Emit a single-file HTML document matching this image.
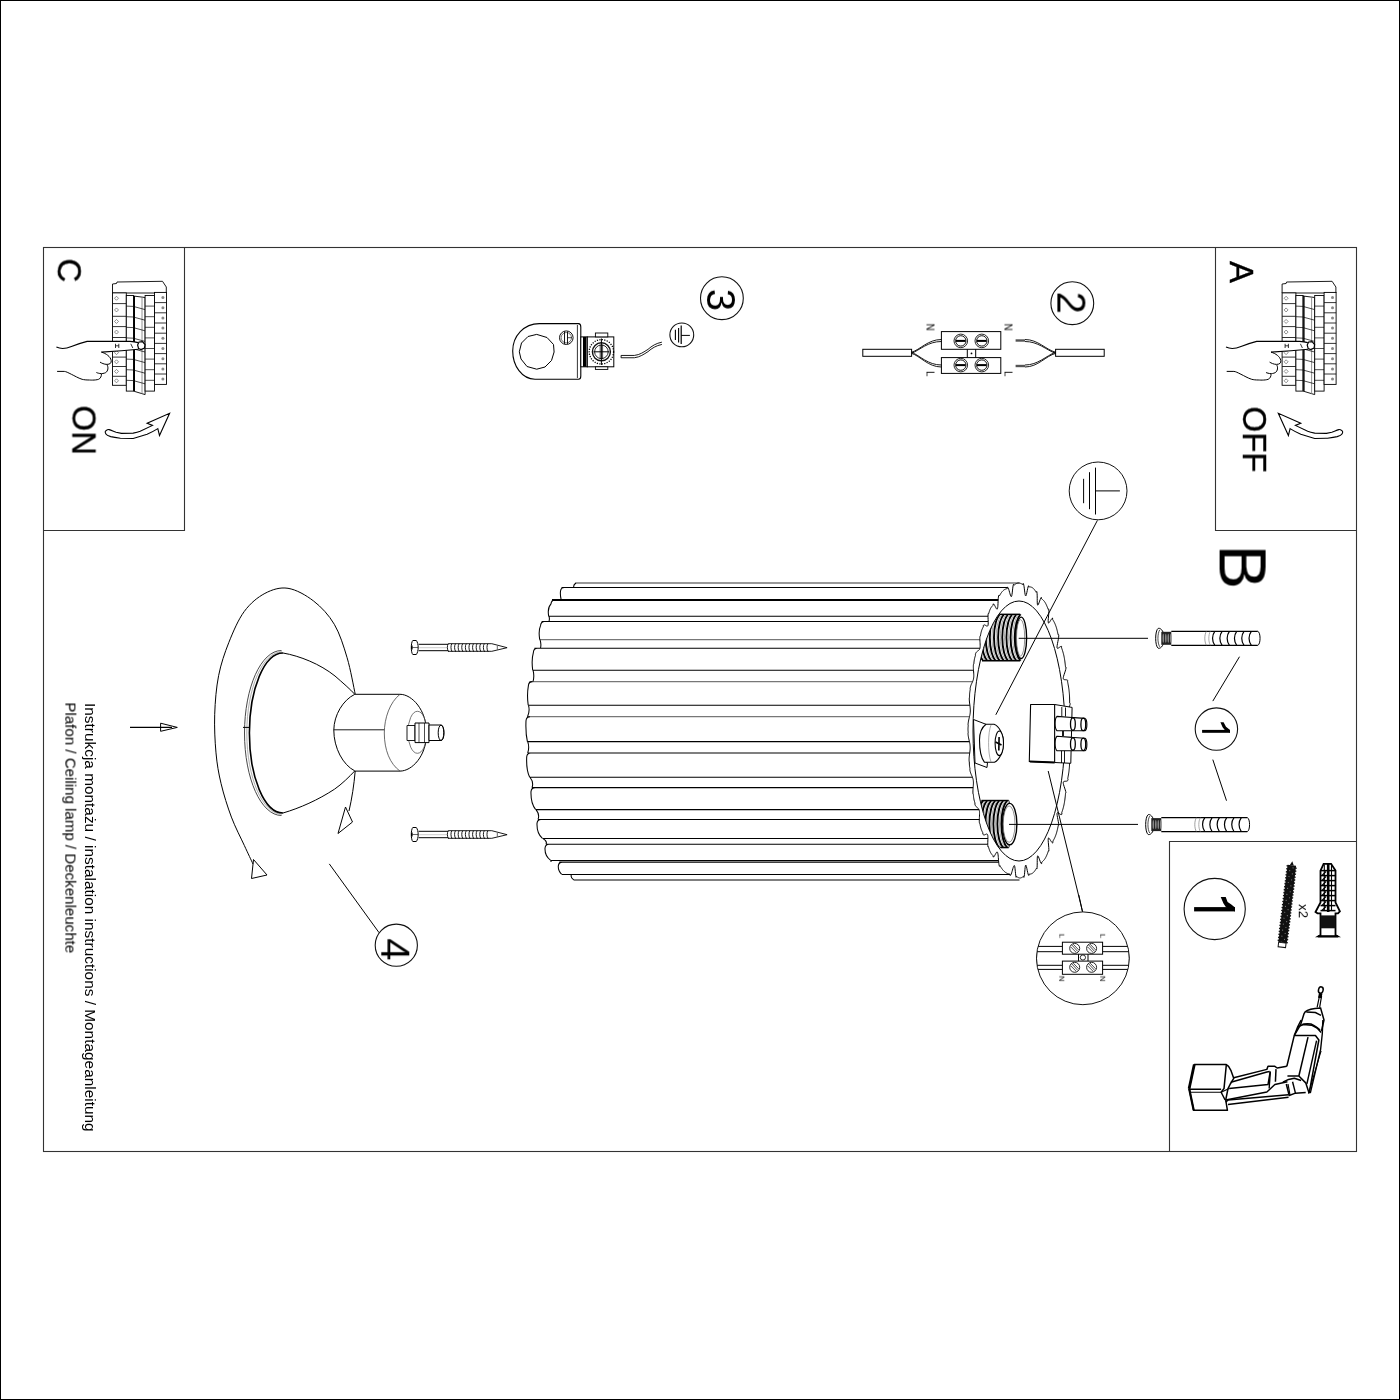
<!DOCTYPE html>
<html><head><meta charset="utf-8"><style>
html,body{margin:0;padding:0;background:#fff;}
svg{display:block;}
text{font-family:"Liberation Sans", sans-serif;fill:#000;}
svg text{will-change:transform;}
</style></head><body>
<svg width="1400" height="1400" viewBox="0 0 1400 1400">
<rect x="0.5" y="0.5" width="1399" height="1399" fill="none" stroke="#000" stroke-width="1"/>
<rect x="43.5" y="247.5" width="1313" height="904" fill="none" stroke="#333" stroke-width="1.1"/>
<path d="M184.5 247.5V530.5H43.5" stroke="#333" stroke-width="1.1" fill="none" />
<path d="M1215.5 247.5V530.5H1356.5" stroke="#333" stroke-width="1.1" fill="none" />
<path d="M1169.5 1151.5V841.5H1356.5" stroke="#333" stroke-width="1.1" fill="none" />
<text transform="translate(57.8,258.5) rotate(90)" font-size="33" stroke="#000" stroke-width="0.35">C</text>
<text transform="translate(72.5,405.5) rotate(90)" font-size="33" stroke="#000" stroke-width="0.35">ON</text>
<text transform="translate(1230,261) rotate(90)" font-size="33" stroke="#000" stroke-width="0.35">A</text>
<text transform="translate(1243,406.5) rotate(90)" font-size="33" stroke="#000" stroke-width="0.35">OFF</text>
<text transform="translate(1219.6,544.5) rotate(90)" font-size="67" >B</text>
<text transform="translate(85,703) rotate(90)" font-size="15.4" >Instrukcja montażu / instalation instructions / Montageanleitung</text>
<text transform="translate(65.4,702.4) rotate(90)" font-size="15.1" >Plafon / Ceiling lamp / Deckenleuchte</text>
<circle cx="721.9" cy="298.2" r="21.4" fill="none" stroke="#111" stroke-width="1.1"/>
<text transform="translate(707,288.8) rotate(90)" font-size="40" >3</text>
<circle cx="1072.3" cy="303.2" r="21.4" fill="none" stroke="#111" stroke-width="1.1"/>
<text transform="translate(1057.4,291.6) rotate(90)" font-size="40" >2</text>
<circle cx="1216.4" cy="729.1" r="21.2" fill="none" stroke="#111" stroke-width="1.1"/>
<rect x="1202.1" y="729.9" width="27.9" height="2.9" fill="#000"/>
<polygon points="1220.4,722.3 1223.6,722.3 1226,726.8 1230,729.9 1230,732.8 1225,730.2 1222.6,727.2" fill="#000"/>
<circle cx="396.3" cy="945.2" r="21.1" fill="none" stroke="#111" stroke-width="1.1"/>
<text transform="translate(381.3,938.3) rotate(90)" font-size="40" >4</text>
<circle cx="1214.7" cy="909" r="30.6" fill="none" stroke="#111" stroke-width="1.1"/>
<rect x="1194.1" y="907.1" width="40.9" height="4.3" fill="#000"/>
<polygon points="1220.7,897.1 1225.7,897.1 1227.6,902 1231,904.3 1235,907.5 1235,911.4 1226,907.3 1223.5,903.5" fill="#000"/>
<polygon points="112.5,293 112.5,284 116.5,283.5 117,282 162.5,281.3 166.3,287 166.3,293" stroke="#000" stroke-width="0.9" fill="none" stroke-linejoin="round"/>
<rect x="112.5" y="292.9" width="13.8" height="92.4" fill="#fff" stroke="#000" stroke-width="0.9"/>
<line x1="112.5" y1="303.6" x2="126.3" y2="303.6" stroke="#000" stroke-width="0.8"/>
<line x1="112.5" y1="316.3" x2="126.3" y2="316.3" stroke="#000" stroke-width="0.8"/>
<line x1="112.5" y1="326.6" x2="126.3" y2="326.6" stroke="#000" stroke-width="0.8"/>
<line x1="112.5" y1="337.5" x2="126.3" y2="337.5" stroke="#000" stroke-width="0.8"/>
<line x1="112.5" y1="348.2" x2="126.3" y2="348.2" stroke="#000" stroke-width="0.8"/>
<line x1="112.5" y1="357.1" x2="126.3" y2="357.1" stroke="#000" stroke-width="0.8"/>
<line x1="112.5" y1="366.5" x2="126.3" y2="366.5" stroke="#000" stroke-width="0.8"/>
<line x1="112.5" y1="376.3" x2="126.3" y2="376.3" stroke="#000" stroke-width="0.8"/>
<polygon points="114.5,298.25 116.5,296.25 118.5,298.25 116.5,300.25" stroke="#444" stroke-width="0.6" fill="none" stroke-linejoin="round"/>
<polygon points="114.5,309.95 116.5,307.95 118.5,309.95 116.5,311.95" stroke="#444" stroke-width="0.6" fill="none" stroke-linejoin="round"/>
<polygon points="114.5,321.45 116.5,319.45 118.5,321.45 116.5,323.45" stroke="#444" stroke-width="0.6" fill="none" stroke-linejoin="round"/>
<polygon points="114.5,332.05 116.5,330.05 118.5,332.05 116.5,334.05" stroke="#444" stroke-width="0.6" fill="none" stroke-linejoin="round"/>
<polygon points="114.5,342.85 116.5,340.85 118.5,342.85 116.5,344.85" stroke="#444" stroke-width="0.6" fill="none" stroke-linejoin="round"/>
<polygon points="114.5,352.65 116.5,350.65 118.5,352.65 116.5,354.65" stroke="#444" stroke-width="0.6" fill="none" stroke-linejoin="round"/>
<polygon points="114.5,361.8 116.5,359.8 118.5,361.8 116.5,363.8" stroke="#444" stroke-width="0.6" fill="none" stroke-linejoin="round"/>
<polygon points="114.5,371.4 116.5,369.4 118.5,371.4 116.5,373.4" stroke="#444" stroke-width="0.6" fill="none" stroke-linejoin="round"/>
<polygon points="114.5,380.8 116.5,378.8 118.5,380.8 116.5,382.8" stroke="#444" stroke-width="0.6" fill="none" stroke-linejoin="round"/>
<rect x="126.3" y="295.5" width="7.2" height="95.6" fill="#fff" stroke="#000" stroke-width="0.9"/>
<line x1="126.3" y1="306.1" x2="133.5" y2="306.4" stroke="#000" stroke-width="0.7"/>
<line x1="126.3" y1="316.7" x2="133.5" y2="317" stroke="#000" stroke-width="0.7"/>
<line x1="126.3" y1="327.3" x2="133.5" y2="327.6" stroke="#000" stroke-width="0.7"/>
<line x1="126.3" y1="337.9" x2="133.5" y2="338.2" stroke="#000" stroke-width="0.7"/>
<line x1="126.3" y1="348.5" x2="133.5" y2="348.8" stroke="#000" stroke-width="0.7"/>
<line x1="126.3" y1="359.1" x2="133.5" y2="359.4" stroke="#000" stroke-width="0.7"/>
<line x1="126.3" y1="369.7" x2="133.5" y2="370" stroke="#000" stroke-width="0.7"/>
<line x1="126.3" y1="380.3" x2="133.5" y2="380.6" stroke="#000" stroke-width="0.7"/>
<polygon points="133.5,296 145.1,297.5 145.1,394.6 133.5,391.1" stroke="#000" stroke-width="0.9" fill="#fff" stroke-linejoin="round"/>
<line x1="134.3" y1="296" x2="134.3" y2="391.1" stroke="#000" stroke-width="1.4"/>
<line x1="142" y1="297" x2="142" y2="394" stroke="#777" stroke-width="0.8"/>
<line x1="134" y1="306.6" x2="145" y2="309.6" stroke="#000" stroke-width="0.7"/>
<line x1="134" y1="317.2" x2="145" y2="320.2" stroke="#000" stroke-width="0.7"/>
<line x1="134" y1="327.8" x2="145" y2="330.8" stroke="#000" stroke-width="0.7"/>
<line x1="134" y1="338.4" x2="145" y2="341.4" stroke="#000" stroke-width="0.7"/>
<line x1="134" y1="349" x2="145" y2="352" stroke="#000" stroke-width="0.7"/>
<line x1="134" y1="359.6" x2="145" y2="362.6" stroke="#000" stroke-width="0.7"/>
<line x1="134" y1="370.2" x2="145" y2="373.2" stroke="#000" stroke-width="0.7"/>
<line x1="134" y1="380.8" x2="145" y2="383.8" stroke="#000" stroke-width="0.7"/>
<rect x="145.1" y="295.5" width="9.4" height="95.6" fill="#fff" stroke="#000" stroke-width="0.9"/>
<line x1="145.1" y1="306.1" x2="154.5" y2="306.1" stroke="#000" stroke-width="0.7"/>
<line x1="145.1" y1="316.7" x2="154.5" y2="316.7" stroke="#000" stroke-width="0.7"/>
<line x1="145.1" y1="327.3" x2="154.5" y2="327.3" stroke="#000" stroke-width="0.7"/>
<line x1="145.1" y1="337.9" x2="154.5" y2="337.9" stroke="#000" stroke-width="0.7"/>
<line x1="145.1" y1="348.5" x2="154.5" y2="348.5" stroke="#000" stroke-width="0.7"/>
<line x1="145.1" y1="359.1" x2="154.5" y2="359.1" stroke="#000" stroke-width="0.7"/>
<line x1="145.1" y1="369.7" x2="154.5" y2="369.7" stroke="#000" stroke-width="0.7"/>
<line x1="145.1" y1="380.3" x2="154.5" y2="380.3" stroke="#000" stroke-width="0.7"/>
<rect x="154.5" y="292.4" width="12" height="92" fill="#fff" stroke="#000" stroke-width="0.9"/>
<line x1="154.5" y1="302.6" x2="166.5" y2="302.6" stroke="#000" stroke-width="0.8"/>
<line x1="154.5" y1="312.8" x2="166.5" y2="312.8" stroke="#000" stroke-width="0.8"/>
<line x1="154.5" y1="323" x2="166.5" y2="323" stroke="#000" stroke-width="0.8"/>
<line x1="154.5" y1="333.2" x2="166.5" y2="333.2" stroke="#000" stroke-width="0.8"/>
<line x1="154.5" y1="343.4" x2="166.5" y2="343.4" stroke="#000" stroke-width="0.8"/>
<line x1="154.5" y1="353.6" x2="166.5" y2="353.6" stroke="#000" stroke-width="0.8"/>
<line x1="154.5" y1="363.8" x2="166.5" y2="363.8" stroke="#000" stroke-width="0.8"/>
<line x1="154.5" y1="374" x2="166.5" y2="374" stroke="#000" stroke-width="0.8"/>
<circle cx="162.9" cy="297.5" r="1.5" fill="#888"/>
<circle cx="162.9" cy="307.7" r="1.5" fill="#888"/>
<circle cx="162.9" cy="317.9" r="1.5" fill="#888"/>
<circle cx="162.9" cy="328.1" r="1.5" fill="#888"/>
<circle cx="162.9" cy="338.3" r="1.5" fill="#888"/>
<circle cx="162.9" cy="348.5" r="1.5" fill="#888"/>
<circle cx="162.9" cy="358.7" r="1.5" fill="#888"/>
<circle cx="162.9" cy="368.9" r="1.5" fill="#888"/>
<circle cx="162.9" cy="379.1" r="1.5" fill="#888"/>
<g transform="translate(0,0)">
<path d="M87.1,341.4 L130,341.4 C134,341.6 136,342 138.2,342.6 L138.6,349.3 L121.4,350.7 L101.4,352.1 L100,345 Z" fill="#fff" stroke="none"/>
<path d="M56.4,347.1 C60,348.8 66,348.8 71.4,346.4 C76,344.6 80,343.3 87.1,341.4 L130,341.4 C134,341.6 136,342 138.2,342.6" stroke="#000" stroke-width="1.1" fill="none" />
<path d="M101.4,352.1 L121.4,350.7 L138.6,349.3" stroke="#000" stroke-width="1.1" fill="none" />
<path d="M101.4,352.1 C106,353.5 110.5,356.5 111.2,360.5 C111.6,363 110,364.3 107,364.4 C104,364.4 101.5,363 100,362.1" stroke="#000" stroke-width="1.0" fill="none" />
<path d="M107.1,365 C108.5,367 108.2,371 105.7,372.6 C104,373.6 101.4,373.6 101.4,373.6 C99,373.5 97.5,373 96.4,372.5" stroke="#000" stroke-width="1.0" fill="none" />
<path d="M101.4,373.8 C101.7,376 100.5,378.5 98.6,379.3 C95,380.5 89.3,380 89.3,380 C86,380 84,379.8 82.1,379.3 C78,378 74.5,375.8 71.4,374.3 C68,372.6 66,371.5 64.3,371.4 L57.1,371.4" stroke="#000" stroke-width="1.0" fill="none" />
<path d="M139,342 L142.5,341.6 L145,344.5 L144.5,348 L141,349.5 L138.6,348.6 L137.6,345 Z" stroke="#000" stroke-width="1.2" fill="#fff" />
<path d="M115.5,343.8 V348 M118.8,343.8 V348 M115.5,345.8 H118.8" stroke="#000" stroke-width="0.8" fill="none" />
<path d="M130.8,343.8 L132.8,348" stroke="#000" stroke-width="0.8" fill="none" />
</g>
<polygon points="1282.1,293 1282.1,284 1286.1,283.5 1286.6,282 1332.1,281.3 1335.9,287 1335.9,293" stroke="#000" stroke-width="0.9" fill="none" stroke-linejoin="round"/>
<rect x="1282.1" y="292.9" width="13.8" height="92.4" fill="#fff" stroke="#000" stroke-width="0.9"/>
<line x1="1282.1" y1="303.6" x2="1295.9" y2="303.6" stroke="#000" stroke-width="0.8"/>
<line x1="1282.1" y1="316.3" x2="1295.9" y2="316.3" stroke="#000" stroke-width="0.8"/>
<line x1="1282.1" y1="326.6" x2="1295.9" y2="326.6" stroke="#000" stroke-width="0.8"/>
<line x1="1282.1" y1="337.5" x2="1295.9" y2="337.5" stroke="#000" stroke-width="0.8"/>
<line x1="1282.1" y1="348.2" x2="1295.9" y2="348.2" stroke="#000" stroke-width="0.8"/>
<line x1="1282.1" y1="357.1" x2="1295.9" y2="357.1" stroke="#000" stroke-width="0.8"/>
<line x1="1282.1" y1="366.5" x2="1295.9" y2="366.5" stroke="#000" stroke-width="0.8"/>
<line x1="1282.1" y1="376.3" x2="1295.9" y2="376.3" stroke="#000" stroke-width="0.8"/>
<polygon points="1284.1,298.25 1286.1,296.25 1288.1,298.25 1286.1,300.25" stroke="#444" stroke-width="0.6" fill="none" stroke-linejoin="round"/>
<polygon points="1284.1,309.95 1286.1,307.95 1288.1,309.95 1286.1,311.95" stroke="#444" stroke-width="0.6" fill="none" stroke-linejoin="round"/>
<polygon points="1284.1,321.45 1286.1,319.45 1288.1,321.45 1286.1,323.45" stroke="#444" stroke-width="0.6" fill="none" stroke-linejoin="round"/>
<polygon points="1284.1,332.05 1286.1,330.05 1288.1,332.05 1286.1,334.05" stroke="#444" stroke-width="0.6" fill="none" stroke-linejoin="round"/>
<polygon points="1284.1,342.85 1286.1,340.85 1288.1,342.85 1286.1,344.85" stroke="#444" stroke-width="0.6" fill="none" stroke-linejoin="round"/>
<polygon points="1284.1,352.65 1286.1,350.65 1288.1,352.65 1286.1,354.65" stroke="#444" stroke-width="0.6" fill="none" stroke-linejoin="round"/>
<polygon points="1284.1,361.8 1286.1,359.8 1288.1,361.8 1286.1,363.8" stroke="#444" stroke-width="0.6" fill="none" stroke-linejoin="round"/>
<polygon points="1284.1,371.4 1286.1,369.4 1288.1,371.4 1286.1,373.4" stroke="#444" stroke-width="0.6" fill="none" stroke-linejoin="round"/>
<polygon points="1284.1,380.8 1286.1,378.8 1288.1,380.8 1286.1,382.8" stroke="#444" stroke-width="0.6" fill="none" stroke-linejoin="round"/>
<rect x="1295.9" y="295.5" width="7.2" height="95.6" fill="#fff" stroke="#000" stroke-width="0.9"/>
<line x1="1295.9" y1="306.1" x2="1303.1" y2="306.4" stroke="#000" stroke-width="0.7"/>
<line x1="1295.9" y1="316.7" x2="1303.1" y2="317" stroke="#000" stroke-width="0.7"/>
<line x1="1295.9" y1="327.3" x2="1303.1" y2="327.6" stroke="#000" stroke-width="0.7"/>
<line x1="1295.9" y1="337.9" x2="1303.1" y2="338.2" stroke="#000" stroke-width="0.7"/>
<line x1="1295.9" y1="348.5" x2="1303.1" y2="348.8" stroke="#000" stroke-width="0.7"/>
<line x1="1295.9" y1="359.1" x2="1303.1" y2="359.4" stroke="#000" stroke-width="0.7"/>
<line x1="1295.9" y1="369.7" x2="1303.1" y2="370" stroke="#000" stroke-width="0.7"/>
<line x1="1295.9" y1="380.3" x2="1303.1" y2="380.6" stroke="#000" stroke-width="0.7"/>
<polygon points="1303.1,296 1314.7,297.5 1314.7,394.6 1303.1,391.1" stroke="#000" stroke-width="0.9" fill="#fff" stroke-linejoin="round"/>
<line x1="1303.9" y1="296" x2="1303.9" y2="391.1" stroke="#000" stroke-width="1.4"/>
<line x1="1311.6" y1="297" x2="1311.6" y2="394" stroke="#777" stroke-width="0.8"/>
<line x1="1303.6" y1="306.6" x2="1314.6" y2="309.6" stroke="#000" stroke-width="0.7"/>
<line x1="1303.6" y1="317.2" x2="1314.6" y2="320.2" stroke="#000" stroke-width="0.7"/>
<line x1="1303.6" y1="327.8" x2="1314.6" y2="330.8" stroke="#000" stroke-width="0.7"/>
<line x1="1303.6" y1="338.4" x2="1314.6" y2="341.4" stroke="#000" stroke-width="0.7"/>
<line x1="1303.6" y1="349" x2="1314.6" y2="352" stroke="#000" stroke-width="0.7"/>
<line x1="1303.6" y1="359.6" x2="1314.6" y2="362.6" stroke="#000" stroke-width="0.7"/>
<line x1="1303.6" y1="370.2" x2="1314.6" y2="373.2" stroke="#000" stroke-width="0.7"/>
<line x1="1303.6" y1="380.8" x2="1314.6" y2="383.8" stroke="#000" stroke-width="0.7"/>
<rect x="1314.7" y="295.5" width="9.4" height="95.6" fill="#fff" stroke="#000" stroke-width="0.9"/>
<line x1="1314.7" y1="306.1" x2="1324.1" y2="306.1" stroke="#000" stroke-width="0.7"/>
<line x1="1314.7" y1="316.7" x2="1324.1" y2="316.7" stroke="#000" stroke-width="0.7"/>
<line x1="1314.7" y1="327.3" x2="1324.1" y2="327.3" stroke="#000" stroke-width="0.7"/>
<line x1="1314.7" y1="337.9" x2="1324.1" y2="337.9" stroke="#000" stroke-width="0.7"/>
<line x1="1314.7" y1="348.5" x2="1324.1" y2="348.5" stroke="#000" stroke-width="0.7"/>
<line x1="1314.7" y1="359.1" x2="1324.1" y2="359.1" stroke="#000" stroke-width="0.7"/>
<line x1="1314.7" y1="369.7" x2="1324.1" y2="369.7" stroke="#000" stroke-width="0.7"/>
<line x1="1314.7" y1="380.3" x2="1324.1" y2="380.3" stroke="#000" stroke-width="0.7"/>
<rect x="1324.1" y="292.4" width="12" height="92" fill="#fff" stroke="#000" stroke-width="0.9"/>
<line x1="1324.1" y1="302.6" x2="1336.1" y2="302.6" stroke="#000" stroke-width="0.8"/>
<line x1="1324.1" y1="312.8" x2="1336.1" y2="312.8" stroke="#000" stroke-width="0.8"/>
<line x1="1324.1" y1="323" x2="1336.1" y2="323" stroke="#000" stroke-width="0.8"/>
<line x1="1324.1" y1="333.2" x2="1336.1" y2="333.2" stroke="#000" stroke-width="0.8"/>
<line x1="1324.1" y1="343.4" x2="1336.1" y2="343.4" stroke="#000" stroke-width="0.8"/>
<line x1="1324.1" y1="353.6" x2="1336.1" y2="353.6" stroke="#000" stroke-width="0.8"/>
<line x1="1324.1" y1="363.8" x2="1336.1" y2="363.8" stroke="#000" stroke-width="0.8"/>
<line x1="1324.1" y1="374" x2="1336.1" y2="374" stroke="#000" stroke-width="0.8"/>
<circle cx="1332.5" cy="297.5" r="1.5" fill="#888"/>
<circle cx="1332.5" cy="307.7" r="1.5" fill="#888"/>
<circle cx="1332.5" cy="317.9" r="1.5" fill="#888"/>
<circle cx="1332.5" cy="328.1" r="1.5" fill="#888"/>
<circle cx="1332.5" cy="338.3" r="1.5" fill="#888"/>
<circle cx="1332.5" cy="348.5" r="1.5" fill="#888"/>
<circle cx="1332.5" cy="358.7" r="1.5" fill="#888"/>
<circle cx="1332.5" cy="368.9" r="1.5" fill="#888"/>
<circle cx="1332.5" cy="379.1" r="1.5" fill="#888"/>
<g transform="translate(1169.6,0)">
<path d="M87.1,341.4 L130,341.4 C134,341.6 136,342 138.2,342.6 L138.6,349.3 L121.4,350.7 L101.4,352.1 L100,345 Z" fill="#fff" stroke="none"/>
<path d="M56.4,347.1 C60,348.8 66,348.8 71.4,346.4 C76,344.6 80,343.3 87.1,341.4 L130,341.4 C134,341.6 136,342 138.2,342.6" stroke="#000" stroke-width="1.1" fill="none" />
<path d="M101.4,352.1 L121.4,350.7 L138.6,349.3" stroke="#000" stroke-width="1.1" fill="none" />
<path d="M101.4,352.1 C106,353.5 110.5,356.5 111.2,360.5 C111.6,363 110,364.3 107,364.4 C104,364.4 101.5,363 100,362.1" stroke="#000" stroke-width="1.0" fill="none" />
<path d="M107.1,365 C108.5,367 108.2,371 105.7,372.6 C104,373.6 101.4,373.6 101.4,373.6 C99,373.5 97.5,373 96.4,372.5" stroke="#000" stroke-width="1.0" fill="none" />
<path d="M101.4,373.8 C101.7,376 100.5,378.5 98.6,379.3 C95,380.5 89.3,380 89.3,380 C86,380 84,379.8 82.1,379.3 C78,378 74.5,375.8 71.4,374.3 C68,372.6 66,371.5 64.3,371.4 L57.1,371.4" stroke="#000" stroke-width="1.0" fill="none" />
<path d="M139,342 L142.5,341.6 L145,344.5 L144.5,348 L141,349.5 L138.6,348.6 L137.6,345 Z" stroke="#000" stroke-width="1.2" fill="#fff" />
<path d="M115.5,343.8 V348 M118.8,343.8 V348 M115.5,345.8 H118.8" stroke="#000" stroke-width="0.8" fill="none" />
<path d="M130.8,343.8 L132.8,348" stroke="#000" stroke-width="0.8" fill="none" />
</g>
<path d="M109.1,429.6 C112,430.5 114,431.8 116.1,432.3 L121.4,433.4 L133.2,433.1 C136,432.5 138,432 140.2,431.2 L152.5,425.4 L147.1,423.2 L169.6,413.3 L159.5,435.5 L157.8,428.6 C154,431 150,433 147.1,434.2 L133.2,438.5 L120.4,438.2 C117,437.8 113.5,437.3 110.7,436.6 C108,435.8 106.5,435 105.9,433.9 C105,432.5 105,431.2 105.9,430.7 C107,429.9 108,429.4 109.1,429.6 Z" stroke="#000" stroke-width="1.1" fill="none" />
<g transform="translate(1447.9,0) scale(-1,1)"><path d="M109.1,429.6 C112,430.5 114,431.8 116.1,432.3 L121.4,433.4 L133.2,433.1 C136,432.5 138,432 140.2,431.2 L152.5,425.4 L147.1,423.2 L169.6,413.3 L159.5,435.5 L157.8,428.6 C154,431 150,433 147.1,434.2 L133.2,438.5 L120.4,438.2 C117,437.8 113.5,437.3 110.7,436.6 C108,435.8 106.5,435 105.9,433.9 C105,432.5 105,431.2 105.9,430.7 C107,429.9 108,429.4 109.1,429.6 Z" stroke="#000" stroke-width="1.1" fill="none"/></g>
<path d="M575.5,583H1019.5" stroke="#777" stroke-width="1.3" fill="none" />
<path d="M552,599.9H998.16" stroke="#000" stroke-width="2.0" fill="none" />
<path d="M540,639.6H979.87" stroke="#777" stroke-width="1.3" fill="none" />
<path d="M529.4,681.6H972.61" stroke="#777" stroke-width="1.3" fill="none" />
<path d="M527,716.7H969.5" stroke="#777" stroke-width="1.3" fill="none" />
<path d="M561.5,587.4H1007.37M549,616.3H988.02M541.6,621.4H988.19M534.4,648.3H979.91M533,670.2H973.49M528.5,705.3H969.88M527.7,741.6H969.42M527.7,753H969.71M530,777.3H972.46M532,787.6H973.14M536,809.6H979.02M538,819.4H979.31M542.7,838.4H987.91M546,844.2H987.76M551,860.4H998.54M559.3,862.1H998.68M562,874.4H1009.99M573.7,879.9H1019.5M576,583Q572.8,585.2 574,587.4M564.5,587.4C561.2,587.4 560.7,588.9 560.5,591.4C560.27,593.02 560.48,596.77 561.2,599.9M555,599.9C551.7,599.9 551.2,601.4 551,603.9C547.75,607.28 547.95,612.2 548.7,616.3M549,616.3Q549.8,618.85 549,621.4M544.6,621.4C541.3,621.4 540.8,622.9 540.6,625.4C538.75,629.59 538.95,635.05 539.7,639.6M540,639.6Q541.5,643.95 540.5,648.3M537.4,648.3C534.1,648.3 533.6,649.8 533.4,652.3C531.75,658.15 531.95,664.73 532.7,670.2M533,670.2Q534.6,675.9 533,681.6M532.4,681.6C529.1,681.6 528.6,683.1 528.4,685.6C527.2,692.26 527.4,699.38 528.2,705.3M528.5,705.3Q530.1,711 527.5,716.7M530,716.7C526.7,716.7 526.2,718.2 526,720.7C525.7,727.91 525.9,735.38 527.4,741.6M527.7,741.6Q529.7,747.3 527.7,753M530.7,753C527.4,753 526.9,754.5 526.7,757C526.4,763.93 526.6,771.22 529.7,777.3M530,777.3Q534,782.45 532,787.6M535,787.6C531.7,787.6 531.2,789.1 531,791.6C530.8,797.5 531,804.1 535.7,809.6M536,809.6Q540,814.5 538,819.4M541,819.4C537.7,819.4 537.2,820.9 537,823.4C536.85,827.95 537.05,833.65 542.4,838.4M542.7,838.4Q547.6,841.3 546,844.2M549,844.2C545.7,844.2 545.2,845.7 545,848.2C544.85,851.49 545.05,856.35 550.7,860.4M551,860.4L551,862.1M562.3,862.1C559,862.1 558.5,863.6 558.3,866.1C558.2,867.63 558.4,871.33 561.7,874.4M571.5,874.4Q570,877.15 573.7,879.9" stroke="#000" stroke-width="1.05" fill="none" />
<path d="M1071,730.5 L1070.99,731.47 L1070.98,732.43 L1070.95,733.39 L1070.92,734.36 L1070.87,735.32 L1070.82,736.27 L1070.75,737.23 L1070.68,738.18 L1070.61,739.13 L1070.52,740.08 L1070.44,741.02 L1070.84,742.07 L1070.66,743 L1070.18,743.84 L1069.49,744.6 L1068.67,745.3 L1067.85,745.97 L1067.15,746.65 L1066.67,747.39 L1066.47,748.21 L1066.59,749.15 L1066.99,750.22 L1067.6,751.4 L1068.33,752.65 L1069.06,753.93 L1069.66,755.19 L1070.04,756.35 L1069.65,757.12 L1069.65,758.1 L1069.65,759.07 L1069.64,760.05 L1069.63,761.02 L1069.61,761.99 L1069.59,762.96 L1069.56,763.93 L1069.51,764.89 L1069.46,765.85 L1069.4,766.8 L1069.33,767.74 L1069.25,768.68 L1069.15,769.6 L1069.05,770.52 L1068.94,771.44 L1068.82,772.34 L1068.68,773.23 L1068.55,774.12 L1068.4,774.99 L1068.24,775.86 L1068.08,776.72 L1067.92,777.57 L1067.75,778.42 L1068.05,779.74 L1067.79,780.49 L1067.25,780.95 L1066.51,781.17 L1065.66,781.24 L1064.81,781.29 L1064.07,781.42 L1063.54,781.78 L1063.27,782.43 L1063.3,783.42 L1063.59,784.75 L1064.07,786.34 L1064.67,788.09 L1065.25,789.87 L1065.72,791.53 L1065.99,792.94 L1065.54,793.39 L1065.45,794.33 L1065.36,795.27 L1065.27,796.21 L1065.17,797.14 L1065.06,798.07 L1064.95,798.99 L1064.83,799.89 L1064.7,800.79 L1064.56,801.68 L1064.42,802.55 L1064.26,803.41 L1064.1,804.25 L1063.93,805.08 L1063.74,805.89 L1063.55,806.69 L1063.35,807.47 L1063.15,808.24 L1062.93,808.99 L1062.71,809.72 L1062.48,810.45 L1062.25,811.16 L1062.02,811.86 L1061.78,812.56 L1061.94,814.04 L1061.62,814.58 L1061.06,814.63 L1060.33,814.29 L1059.5,813.73 L1058.67,813.14 L1057.95,812.73 L1057.4,812.67 L1057.09,813.11 L1057.02,814.09 L1057.18,815.58 L1057.51,817.48 L1057.92,819.61 L1058.33,821.76 L1058.63,823.71 L1058.76,825.27 L1058.28,825.37 L1058.12,826.22 L1057.94,827.06 L1057.77,827.9 L1057.59,828.72 L1057.4,829.54 L1057.21,830.34 L1057.01,831.13 L1056.81,831.9 L1056.6,832.66 L1056.38,833.39 L1056.15,834.1 L1055.92,834.8 L1055.67,835.47 L1055.42,836.12 L1055.17,836.75 L1054.9,837.36 L1054.64,837.94 L1054.36,838.51 L1054.08,839.06 L1053.79,839.59 L1053.51,840.1 L1053.21,840.61 L1052.92,841.1 L1052.95,842.66 L1052.59,842.94 L1052.05,842.58 L1051.36,841.7 L1050.61,840.54 L1049.87,839.36 L1049.21,838.42 L1048.68,837.97 L1048.34,838.16 L1048.19,839.05 L1048.21,840.61 L1048.35,842.69 L1048.56,845.06 L1048.76,847.43 L1048.87,849.54 L1048.86,851.14 L1048.39,850.89 L1048.15,851.58 L1047.91,852.27 L1047.66,852.95 L1047.41,853.61 L1047.16,854.26 L1046.9,854.89 L1046.64,855.51 L1046.37,856.1 L1046.1,856.67 L1045.82,857.22 L1045.54,857.74 L1045.25,858.24 L1044.96,858.71 L1044.66,859.15 L1044.35,859.57 L1044.04,859.96 L1043.73,860.33 L1043.41,860.67 L1043.09,860.99 L1042.77,861.29 L1042.44,861.58 L1042.12,861.85 L1041.79,862.11 L1041.67,863.63 L1041.3,863.64 L1040.81,862.88 L1040.23,861.53 L1039.61,859.86 L1039,858.16 L1038.44,856.77 L1037.98,855.94 L1037.63,855.87 L1037.4,856.62 L1037.28,858.14 L1037.23,860.26 L1037.22,862.69 L1037.19,865.14 L1037.12,867.26 L1036.96,868.79 L1036.53,868.2 L1036.23,868.7 L1035.94,869.18 L1035.64,869.65 L1035.34,870.11 L1035.03,870.55 L1034.73,870.97 L1034.42,871.37 L1034.11,871.74 L1033.79,872.09 L1033.47,872.42 L1033.15,872.71 L1032.83,872.97 L1032.5,873.21 L1032.17,873.41 L1031.84,873.59 L1031.51,873.74 L1031.17,873.86 L1030.83,873.96 L1030.5,874.03 L1030.16,874.08 L1029.82,874.12 L1029.48,874.14 L1029.14,874.14 L1028.89,875.53 L1028.53,875.26 L1028.12,874.17 L1027.68,872.44 L1027.23,870.36 L1026.8,868.27 L1026.39,866.51 L1026.01,865.37 L1025.68,865.04 L1025.4,865.68 L1025.15,867.3 L1024.93,869.6 L1024.7,872.2 L1024.46,874.63 L1024.18,876.48 L1023.88,877.42 L1023.51,876.27 L1023.18,876.54 L1022.85,876.8 L1022.52,877.04 L1022.19,877.26 L1021.85,877.46 L1021.52,877.63 L1021.18,877.77 L1020.85,877.88 L1020.51,877.95 L1020.17,877.99 L1019.84,877.99 L1019.5,877.96 L1019.16,877.89 L1018.83,877.79 L1018.49,877.66 L1018.16,877.5 L1017.82,877.31 L1017.49,877.1 L1017.16,876.87 L1016.83,876.63 L1016.5,876.37 L1016.14,877.34 L1015.84,875.94 L1015.56,873.78 L1015.31,871.25 L1015.06,868.78 L1014.81,866.81 L1014.54,865.68 L1014.23,865.49 L1013.91,865.81 L1013.56,866.5 L1013.2,867.52 L1012.82,868.77 L1012.43,870.15 L1012.03,871.55 L1011.63,872.86 L1011.23,873.99 L1010.84,874.84 L1010.47,875.36 L1010.12,875.51 L1009.87,874.07 L1009.53,874.01 L1009.2,873.95 L1008.86,873.87 L1008.52,873.79 L1008.19,873.69 L1007.85,873.58 L1007.52,873.46 L1007.18,873.32 L1006.85,873.17 L1006.52,873 L1006.19,872.82 L1005.86,872.62 L1005.53,872.41 L1005.2,872.17 L1004.87,871.92 L1004.55,871.65 L1004.23,871.36 L1003.91,871.05 L1003.59,870.73 L1003.28,870.39 L1002.96,870.03 L1002.65,869.65 L1002.34,869.26 L1002.04,868.85 L1001.73,868.42 L1001.43,867.99 L1001.13,867.54 L1000.84,867.07 L1000.54,866.6 L1000.25,866.12 L999.96,865.63 L999.49,866.36 L999.22,865.67 L999,864.7 L998.83,863.5 L998.68,862.12 L998.56,860.62 L998.44,859.09 L998.34,857.59 L998.22,856.17 L998.08,854.9 L997.92,853.81 L997.72,852.93 L997.48,852.29 L997.2,851.91 L996.82,852.02 L996.36,852.59 L995.82,853.49 L995.25,854.54 L994.67,855.58 L994.11,856.44 L993.62,856.97 L993.2,857.1 L993.09,855.76 L992.77,855.44 L992.45,855.1 L992.13,854.75 L991.81,854.38 L991.5,853.98 L991.2,853.55 L990.9,853.09 L990.61,852.59 L990.33,852.06 L990.06,851.49 L989.79,850.88 L989.54,850.24 L989.3,849.57 L989.06,848.87 L988.83,848.15 L988.6,847.4 L988.38,846.65 L987.92,846.78 L987.8,845.67 L987.76,844.27 L987.78,842.68 L987.84,841 L987.89,839.35 L987.92,837.82 L987.89,836.5 L987.79,835.45 L987.6,834.7 L987.32,834.23 L986.95,834.02 L986.52,834.03 L986.03,834.19 L985.51,834.43 L984.98,834.68 L984.46,834.88 L983.97,834.96 L983.53,834.87 L983.16,834.59 L982.85,834.1 L982.83,832.81 L982.55,832.26 L982.27,831.7 L981.99,831.11 L981.73,830.5 L981.47,829.86 L981.23,829.19 L981,828.48 L980.79,827.73 L980.59,826.95 L980.4,826.14 L980.23,825.29 L980.07,824.43 L979.91,823.55 L979.49,823.3 L979.35,822.38 L979.29,821.29 L979.29,820.08 L979.33,818.78 L979.4,817.45 L979.47,816.12 L979.53,814.83 L979.56,813.61 L979.54,812.5 L979.47,811.52 L979.34,810.66 L979.15,809.93 L978.89,809.32 L978.57,808.82 L978.21,808.4 L977.82,808.03 L977.39,807.7 L976.96,807.36 L976.54,807.01 L976.14,806.61 L975.76,806.14 L975.43,805.6 L975.14,804.96 L974.91,804.23 L974.96,803.05 L974.73,802.32 L974.5,801.57 L974.29,800.8 L974.1,800.01 L973.92,799.18 L973.77,798.31 L973.64,797.42 L973.54,796.49 L973.45,795.54 L973.37,794.58 L973.03,793.99 L972.94,793.04 L972.91,792.02 L972.93,790.94 L972.98,789.82 L973.06,788.68 L973.15,787.54 L973.24,786.4 L973.32,785.28 L973.38,784.2 L973.41,783.16 L973.4,782.17 L973.35,781.23 L973.26,780.35 L973.11,779.51 L972.93,778.72 L972.7,777.97 L972.44,777.24 L972.15,776.53 L971.84,775.84 L971.53,775.14 L971.22,774.43 L970.92,773.7 L970.64,772.95 L970.38,772.17 L970.17,771.35 L969.99,770.49 L969.85,769.6 L969.95,768.53 L969.78,767.66 L969.64,766.77 L969.51,765.86 L969.42,764.93 L969.37,763.98 L969.34,763.01 L969.34,762.02 L969.13,761.17 L969.08,760.21 L969.08,759.22 L969.12,758.22 L969.19,757.2 L969.3,756.18 L969.42,755.14 L969.56,754.11 L969.7,753.09 L969.83,752.08 L969.95,751.07 L970.05,750.09 L970.13,749.12 L970.17,748.16 L970.17,747.22 L970.14,746.3 L970.06,745.38 L969.96,744.48 L969.82,743.58 L969.65,742.68 L969.46,741.78 L969.26,740.88 L969.05,739.97 L968.84,739.06 L968.64,738.13 L968.45,737.2 L968.3,736.26 L968.17,735.31 L968.07,734.36 L968.02,733.4 L968.19,732.42 L968.11,731.46 L968.04,730.5 L968.01,729.53 L968.01,728.57 L968.05,727.61 L968.13,726.65 L968.22,725.69 L968.05,724.71 L968.11,723.75 L968.22,722.8 L968.35,721.86 L968.52,720.93 L968.71,720.01 L968.92,719.1 L969.14,718.2 L969.35,717.3 L969.56,716.41 L969.76,715.53 L969.93,714.64 L970.08,713.75 L970.19,712.85 L970.27,711.94 L970.3,711.01 L970.3,710.07 L970.27,709.11 L970.2,708.14 L970.1,707.14 L969.99,706.13 L969.86,705.11 L969.72,704.08 L969.59,703.04 L969.47,702 L969.37,700.97 L969.31,699.94 L969.28,698.94 L969.29,697.96 L969.56,697.15 L969.56,696.16 L969.57,695.17 L969.6,694.21 L969.67,693.26 L969.77,692.33 L969.9,691.44 L970.05,690.56 L970.22,689.7 L970.13,688.61 L970.27,687.73 L970.46,686.89 L970.68,686.08 L970.94,685.31 L971.23,684.58 L971.54,683.88 L971.86,683.19 L972.19,682.51 L972.5,681.84 L972.8,681.15 L973.06,680.44 L973.3,679.7 L973.49,678.92 L973.64,678.09 L973.74,677.21 L973.79,676.27 L973.8,675.28 L973.77,674.23 L973.71,673.14 L973.63,672.01 L973.54,670.86 L973.46,669.71 L973.39,668.56 L973.34,667.44 L973.33,666.37 L973.37,665.35 L973.47,664.41 L973.82,663.84 L973.9,662.88 L974,661.94 L974.11,661.02 L974.25,660.13 L974.4,659.27 L974.58,658.45 L974.78,657.66 L974.99,656.9 L975.22,656.16 L975.45,655.44 L975.42,654.26 L975.64,653.53 L975.92,652.89 L976.25,652.35 L976.62,651.89 L977.03,651.51 L977.46,651.18 L977.9,650.88 L978.33,650.59 L978.74,650.27 L979.12,649.89 L979.45,649.43 L979.73,648.87 L979.94,648.18 L980.08,647.34 L980.15,646.35 L980.16,645.21 L980.12,643.95 L980.05,642.61 L979.96,641.22 L979.88,639.84 L979.84,638.53 L979.86,637.32 L979.95,636.28 L980.37,636.05 L980.53,635.17 L980.69,634.3 L980.86,633.45 L981.04,632.63 L981.24,631.84 L981.46,631.09 L981.68,630.38 L981.93,629.71 L982.18,629.08 L982.45,628.48 L982.73,627.91 L983.01,627.36 L983.3,626.83 L983.33,625.54 L983.65,625.09 L984.04,624.88 L984.51,624.89 L985.03,625.08 L985.57,625.38 L986.12,625.71 L986.65,626 L987.12,626.14 L987.53,626.08 L987.84,625.74 L988.06,625.08 L988.18,624.08 L988.22,622.78 L988.19,621.23 L988.12,619.52 L988.05,617.78 L988.02,616.13 L988.05,614.7 L988.18,613.6 L988.64,613.75 L988.86,612.99 L989.09,612.25 L989.32,611.53 L989.56,610.83 L989.81,610.17 L990.06,609.54 L990.33,608.95 L990.61,608.4 L990.9,607.89 L991.19,607.42 L991.49,606.98 L991.8,606.58 L992.12,606.21 L992.44,605.86 L992.76,605.53 L993.09,605.21 L993.19,603.86 L993.61,603.98 L994.11,604.55 L994.67,605.46 L995.27,606.58 L995.85,607.69 L996.39,608.61 L996.85,609.13 L997.2,609.13 L997.47,608.62 L997.67,607.78 L997.82,606.61 L997.92,605.18 L998,603.55 L998.07,601.82 L998.15,600.09 L998.25,598.48 L998.4,597.09 L998.6,596.03 L998.86,595.37 L999.33,596.03 L999.62,595.51 L999.9,595 L1000.19,594.5 L1000.49,594.01 L1000.78,593.54 L1001.08,593.09 L1001.39,592.66 L1001.69,592.25 L1002,591.86 L1002.31,591.49 L1002.63,591.15 L1002.95,590.83 L1003.27,590.53 L1003.59,590.26 L1003.92,590.01 L1004.24,589.78 L1004.57,589.58 L1004.91,589.39 L1005.24,589.23 L1005.57,589.08 L1005.91,588.95 L1006.25,588.83 L1006.58,588.72 L1006.92,588.63 L1007.26,588.55 L1007.48,587.12 L1007.85,587.37 L1008.25,588.11 L1008.68,589.26 L1009.13,590.7 L1009.57,592.28 L1010.01,593.82 L1010.42,595.16 L1010.8,596.12 L1011.15,596.61 L1011.46,596.52 L1011.74,595.84 L1011.98,594.6 L1012.21,592.91 L1012.43,590.94 L1012.66,588.89 L1012.9,586.98 L1013.17,585.41 L1013.46,584.35 L1013.84,585.31 L1014.16,585.05 L1014.49,584.79 L1014.82,584.55 L1015.15,584.32 L1015.48,584.1 L1015.81,583.9 L1016.14,583.71 L1016.47,583.55 L1016.81,583.4 L1017.14,583.28 L1017.48,583.18 L1017.82,583.11 L1018.15,583.06 L1018.49,583.03 L1018.83,583.03 L1019.16,583.05 L1019.5,583.09 L1019.84,583.16 L1020.17,583.25 L1020.51,583.36 L1020.84,583.49 L1021.18,583.64 L1021.51,583.81 L1021.85,583.99 L1022.18,584.19 L1022.51,584.4 L1022.84,584.61 L1023.2,583.41 L1023.53,584 L1023.83,585.2 L1024.11,586.88 L1024.37,588.87 L1024.62,590.94 L1024.87,592.87 L1025.12,594.45 L1025.39,595.52 L1025.68,595.96 L1026.01,595.63 L1026.39,594.49 L1026.8,592.73 L1027.23,590.64 L1027.68,588.56 L1028.12,586.83 L1028.53,585.74 L1028.8,586.86 L1029.14,586.86 L1029.48,586.86 L1029.82,586.88 L1030.16,586.92 L1030.5,586.97 L1030.83,587.04 L1031.17,587.14 L1031.51,587.26 L1031.84,587.41 L1032.17,587.59 L1032.5,587.79 L1032.83,588.03 L1033.15,588.29 L1033.47,588.58 L1033.79,588.91 L1034.11,589.26 L1034.42,589.63 L1034.73,590.03 L1035.03,590.45 L1035.34,590.89 L1035.64,591.35 L1035.94,591.82 L1036.23,592.3 L1036.69,591.46 L1036.96,592.21 L1037.12,593.74 L1037.19,595.86 L1037.22,598.31 L1037.23,600.74 L1037.28,602.86 L1037.4,604.38 L1037.63,605.13 L1037.98,605.06 L1038.44,604.23 L1039,602.84 L1039.61,601.14 L1040.23,599.47 L1040.81,598.12 L1041.3,597.36 L1041.46,598.65 L1041.79,598.89 L1042.12,599.15 L1042.44,599.42 L1042.77,599.71 L1043.09,600.01 L1043.41,600.33 L1043.73,600.67 L1044.04,601.04 L1044.35,601.43 L1044.66,601.85 L1044.96,602.29 L1045.25,602.76 L1045.54,603.26 L1045.82,603.78 L1046.1,604.33 L1046.37,604.9 L1046.64,605.49 L1046.9,606.11 L1047.16,606.74 L1047.41,607.39 L1047.66,608.05 L1047.91,608.73 L1048.15,609.42 L1048.67,608.94 L1048.86,609.86 L1048.87,611.46 L1048.76,613.57 L1048.56,615.94 L1048.35,618.31 L1048.21,620.39 L1048.19,621.95 L1048.34,622.84 L1048.68,623.03 L1049.21,622.58 L1049.87,621.64 L1050.61,620.46 L1051.36,619.3 L1052.05,618.42 L1052.59,618.06 L1052.63,619.42 L1052.92,619.9 L1053.21,620.39 L1053.51,620.9 L1053.79,621.41 L1054.08,621.94 L1054.36,622.49 L1054.64,623.06 L1054.9,623.64 L1055.17,624.25 L1055.42,624.88 L1055.67,625.53 L1055.92,626.2 L1056.15,626.9 L1056.38,627.61 L1056.6,628.34 L1056.81,629.1 L1057.01,629.87 L1057.21,630.66 L1057.4,631.46 L1057.59,632.28 L1057.77,633.1 L1057.94,633.94 L1058.12,634.78 L1058.66,634.71 L1058.76,635.73 L1058.63,637.29 L1058.33,639.24 L1057.92,641.39 L1057.51,643.52 L1057.18,645.42 L1057.02,646.91 L1057.09,647.89 L1057.4,648.33 L1057.95,648.27 L1058.67,647.86 L1059.5,647.27 L1060.33,646.71 L1061.06,646.37 L1061.62,646.42 L1061.54,647.76 L1061.78,648.44 L1062.02,649.14 L1062.25,649.84 L1062.48,650.55 L1062.71,651.28 L1062.93,652.01 L1063.15,652.76 L1063.35,653.53 L1063.55,654.31 L1063.74,655.11 L1063.93,655.92 L1064.1,656.75 L1064.26,657.59 L1064.42,658.45 L1064.56,659.32 L1064.7,660.21 L1064.83,661.11 L1064.95,662.01 L1065.06,662.93 L1065.17,663.86 L1065.27,664.79 L1065.36,665.73 L1065.45,666.67 L1065.98,667 L1065.99,668.06 L1065.72,669.47 L1065.25,671.13 L1064.67,672.91 L1064.07,674.66 L1063.59,676.25 L1063.3,677.58 L1063.27,678.57 L1063.54,679.22 L1064.07,679.58 L1064.81,679.71 L1065.66,679.76 L1066.51,679.83 L1067.25,680.05 L1067.79,680.51 L1067.58,681.74 L1067.75,682.58 L1067.92,683.43 L1068.08,684.28 L1068.24,685.14 L1068.4,686.01 L1068.55,686.88 L1068.68,687.77 L1068.82,688.66 L1068.94,689.56 L1069.05,690.48 L1069.15,691.4 L1069.25,692.32 L1069.33,693.26 L1069.4,694.2 L1069.46,695.15 L1069.51,696.11 L1069.56,697.07 L1069.59,698.04 L1069.61,699.01 L1069.63,699.98 L1069.64,700.95 L1069.65,701.93 L1069.65,702.9 L1070.14,703.62 L1070.04,704.65 L1069.66,705.81 L1069.06,707.07 L1068.33,708.35 L1067.6,709.6 L1066.99,710.78 L1066.59,711.85 L1066.47,712.79 L1066.67,713.61 L1067.15,714.35 L1067.85,715.03 L1068.67,715.7 L1069.49,716.4 L1070.18,717.16 L1070.66,718 L1070.35,719.04 L1070.44,719.98 L1070.52,720.92 L1070.61,721.87 L1070.68,722.82 L1070.75,723.77 L1070.82,724.73 L1070.87,725.68 L1070.92,726.64 L1070.95,727.61 L1070.98,728.57 L1070.99,729.53 L1071,730.5Z" stroke="#000" stroke-width="1.0" fill="none" />
<ellipse cx="1019" cy="731" rx="46" ry="130" stroke="#000" stroke-width="1.0" fill="none"/>
<defs><clipPath id="cin"><ellipse cx="1019" cy="731" rx="46" ry="130"/></clipPath></defs>
<defs><clipPath id="cb614"><rect x="960" y="614.3" width="61.2" height="46.4"/></clipPath></defs>
<g clip-path="url(#cin)"><g clip-path="url(#cb614)"><path d="M984.5,613.3 C975,619.3 975,655.7 984.5,661.7" stroke="#000" stroke-width="1.9" fill="none"/><path d="M986.7,613.3 C977.2,619.3 977.2,655.7 986.7,661.7" stroke="#555" stroke-width="0.5" fill="none"/><path d="M988.65,613.3 C979.15,619.3 979.15,655.7 988.65,661.7" stroke="#000" stroke-width="1.9" fill="none"/><path d="M990.85,613.3 C981.35,619.3 981.35,655.7 990.85,661.7" stroke="#555" stroke-width="0.5" fill="none"/><path d="M992.8,613.3 C983.3,619.3 983.3,655.7 992.8,661.7" stroke="#000" stroke-width="1.9" fill="none"/><path d="M995,613.3 C985.5,619.3 985.5,655.7 995,661.7" stroke="#555" stroke-width="0.5" fill="none"/><path d="M996.95,613.3 C987.45,619.3 987.45,655.7 996.95,661.7" stroke="#000" stroke-width="1.9" fill="none"/><path d="M999.15,613.3 C989.65,619.3 989.65,655.7 999.15,661.7" stroke="#555" stroke-width="0.5" fill="none"/><path d="M1001.1,613.3 C991.6,619.3 991.6,655.7 1001.1,661.7" stroke="#000" stroke-width="1.9" fill="none"/><path d="M1003.3,613.3 C993.8,619.3 993.8,655.7 1003.3,661.7" stroke="#555" stroke-width="0.5" fill="none"/><path d="M1005.25,613.3 C995.75,619.3 995.75,655.7 1005.25,661.7" stroke="#000" stroke-width="1.9" fill="none"/><path d="M1007.45,613.3 C997.95,619.3 997.95,655.7 1007.45,661.7" stroke="#555" stroke-width="0.5" fill="none"/><path d="M1009.4,613.3 C999.9,619.3 999.9,655.7 1009.4,661.7" stroke="#000" stroke-width="1.9" fill="none"/><path d="M1011.6,613.3 C1002.1,619.3 1002.1,655.7 1011.6,661.7" stroke="#555" stroke-width="0.5" fill="none"/><path d="M1013.55,613.3 C1004.05,619.3 1004.05,655.7 1013.55,661.7" stroke="#000" stroke-width="1.9" fill="none"/><path d="M1015.75,613.3 C1006.25,619.3 1006.25,655.7 1015.75,661.7" stroke="#555" stroke-width="0.5" fill="none"/><path d="M1017.7,613.3 C1008.2,619.3 1008.2,655.7 1017.7,661.7" stroke="#000" stroke-width="1.9" fill="none"/><path d="M1019.9,613.3 C1010.4,619.3 1010.4,655.7 1019.9,661.7" stroke="#555" stroke-width="0.5" fill="none"/><path d="M1021.85,613.3 C1012.35,619.3 1012.35,655.7 1021.85,661.7" stroke="#000" stroke-width="1.9" fill="none"/><path d="M1024.05,613.3 C1014.55,619.3 1014.55,655.7 1024.05,661.7" stroke="#555" stroke-width="0.5" fill="none"/></g></g>
<line x1="999.6" y1="614.3" x2="1020.2" y2="614.3" stroke="#000" stroke-width="1.4"/>
<line x1="982" y1="660.7" x2="1020.2" y2="660.7" stroke="#000" stroke-width="1.4"/>
<ellipse cx="1021.2" cy="637.8" rx="5.4" ry="20.7" stroke="#000" stroke-width="1.4" fill="#fff"/>
<ellipse cx="1020.6" cy="637.8" rx="4.1" ry="18.2" stroke="#777" stroke-width="0.8" fill="none"/>
<defs><clipPath id="cb800"><rect x="960" y="800.5" width="49.7" height="47.1"/></clipPath></defs>
<g clip-path="url(#cin)"><g clip-path="url(#cb800)"><path d="M980.5,799.5 C971,805.5 971,842.6 980.5,848.6" stroke="#000" stroke-width="1.9" fill="none"/><path d="M982.7,799.5 C973.2,805.5 973.2,842.6 982.7,848.6" stroke="#555" stroke-width="0.5" fill="none"/><path d="M984.5,799.5 C975,805.5 975,842.6 984.5,848.6" stroke="#000" stroke-width="1.9" fill="none"/><path d="M986.7,799.5 C977.2,805.5 977.2,842.6 986.7,848.6" stroke="#555" stroke-width="0.5" fill="none"/><path d="M988.5,799.5 C979,805.5 979,842.6 988.5,848.6" stroke="#000" stroke-width="1.9" fill="none"/><path d="M990.7,799.5 C981.2,805.5 981.2,842.6 990.7,848.6" stroke="#555" stroke-width="0.5" fill="none"/><path d="M992.5,799.5 C983,805.5 983,842.6 992.5,848.6" stroke="#000" stroke-width="1.9" fill="none"/><path d="M994.7,799.5 C985.2,805.5 985.2,842.6 994.7,848.6" stroke="#555" stroke-width="0.5" fill="none"/><path d="M996.5,799.5 C987,805.5 987,842.6 996.5,848.6" stroke="#000" stroke-width="1.9" fill="none"/><path d="M998.7,799.5 C989.2,805.5 989.2,842.6 998.7,848.6" stroke="#555" stroke-width="0.5" fill="none"/><path d="M1000.5,799.5 C991,805.5 991,842.6 1000.5,848.6" stroke="#000" stroke-width="1.9" fill="none"/><path d="M1002.7,799.5 C993.2,805.5 993.2,842.6 1002.7,848.6" stroke="#555" stroke-width="0.5" fill="none"/><path d="M1004.5,799.5 C995,805.5 995,842.6 1004.5,848.6" stroke="#000" stroke-width="1.9" fill="none"/><path d="M1006.7,799.5 C997.2,805.5 997.2,842.6 1006.7,848.6" stroke="#555" stroke-width="0.5" fill="none"/><path d="M1008.5,799.5 C999,805.5 999,842.6 1008.5,848.6" stroke="#000" stroke-width="1.9" fill="none"/><path d="M1010.7,799.5 C1001.2,805.5 1001.2,842.6 1010.7,848.6" stroke="#555" stroke-width="0.5" fill="none"/><path d="M1012.5,799.5 C1003,805.5 1003,842.6 1012.5,848.6" stroke="#000" stroke-width="1.9" fill="none"/><path d="M1014.7,799.5 C1005.2,805.5 1005.2,842.6 1014.7,848.6" stroke="#555" stroke-width="0.5" fill="none"/></g></g>
<line x1="981.4" y1="800.5" x2="1008.7" y2="800.5" stroke="#000" stroke-width="1.4"/>
<line x1="1000.2" y1="847.6" x2="1008.7" y2="847.6" stroke="#000" stroke-width="1.4"/>
<ellipse cx="1009.7" cy="824.1" rx="7.2" ry="20.7" stroke="#000" stroke-width="1.4" fill="#fff"/>
<ellipse cx="1009.1" cy="824.1" rx="5.9" ry="18.2" stroke="#777" stroke-width="0.8" fill="none"/>
<polygon points="973.5,719.5 986,724.3 986,762.5 987.5,762.5 987,767.5 975,763" stroke="#000" stroke-width="1.0" fill="#fff" stroke-linejoin="round"/>
<path d="M986,724.3 C981,728 979.5,733 979.5,740 C979.5,750 981,758 984.5,762.3 L994.5,762.3 C999,760 1003.5,752 1003.5,743 C1003.5,734 999,726 994,724.3 Z" stroke="#000" stroke-width="1.1" fill="#fff" />
<path d="M991,725 C988,732 987.5,752 991,762" stroke="#888" stroke-width="0.7" fill="none" />
<ellipse cx="999.3" cy="743.3" rx="4.2" ry="12.3" stroke="#000" stroke-width="1.1" fill="#fff"/>
<line x1="999.1" y1="737" x2="998.8" y2="750.5" stroke="#000" stroke-width="1.6"/>
<line x1="995.5" y1="742" x2="1001.5" y2="745" stroke="#000" stroke-width="1.6"/>
<polygon points="1030.6,704.5 1054.7,704.5 1054.7,762.5 1029.3,761.4" stroke="#000" stroke-width="1.1" fill="#fff" stroke-linejoin="round"/>
<path d="M1029.8,761.6 L1054.7,762.6" stroke="#000" stroke-width="2.0" fill="none" />
<polygon points="1054.7,704.5 1072.1,707.4 1070.8,763.3 1054.7,762.5" stroke="#000" stroke-width="1.0" fill="#fff" stroke-linejoin="round"/>
<line x1="1061.8" y1="707" x2="1061.8" y2="716.5" stroke="#000" stroke-width="0.9"/>
<line x1="1065.5" y1="707.5" x2="1065.5" y2="716.5" stroke="#000" stroke-width="0.9"/>
<line x1="1061.5" y1="750.5" x2="1061.5" y2="763" stroke="#000" stroke-width="0.9"/>
<line x1="1064.5" y1="750.5" x2="1064.5" y2="763" stroke="#000" stroke-width="0.9"/>
<path d="M1057,716.4 L1085,718.4 C1087.5,719.4 1087.5,729.8 1085,730.8 L1057,730.8 C1054.5,728.8 1054.5,718.4 1057,716.4 Z" stroke="#000" stroke-width="1.1" fill="#fff" />
<ellipse cx="1072.9" cy="724.1" rx="2.4" ry="6.2" stroke="#000" stroke-width="1.3" fill="none"/>
<ellipse cx="1083.3" cy="724.4" rx="2.4" ry="6.2" stroke="#000" stroke-width="1.3" fill="none"/>
<path d="M1057,736.3 L1085,738.3 C1087.5,739.3 1087.5,749.8 1085,750.8 L1057,750.8 C1054.5,748.8 1054.5,738.3 1057,736.3 Z" stroke="#000" stroke-width="1.1" fill="#fff" />
<ellipse cx="1072.9" cy="744.05" rx="2.4" ry="6.2" stroke="#000" stroke-width="1.3" fill="none"/>
<ellipse cx="1083.3" cy="744.35" rx="2.4" ry="6.2" stroke="#000" stroke-width="1.3" fill="none"/>
<line x1="1063" y1="731" x2="1063" y2="736" stroke="#000" stroke-width="1.8"/>
<line x1="1097.4" y1="520.4" x2="1047.2" y2="616.2" stroke="#000" stroke-width="1.0"/>
<line x1="1047.2" y1="616.2" x2="995.8" y2="714.8" stroke="#000" stroke-width="1.0"/>
<line x1="1018.7" y1="638.3" x2="1148" y2="638.3" stroke="#000" stroke-width="1.0"/>
<line x1="1009" y1="824.4" x2="1138" y2="824.4" stroke="#000" stroke-width="1.0"/>
<line x1="1048.2" y1="771" x2="1082.5" y2="911.4" stroke="#000" stroke-width="1.0"/>
<circle cx="1098.1" cy="490.9" r="28.9" fill="none" stroke="#111" stroke-width="1.0"/>
<line x1="1083.6" y1="478.8" x2="1083.6" y2="503.2" stroke="#000" stroke-width="1.0"/>
<line x1="1089.5" y1="472.2" x2="1089.5" y2="509.2" stroke="#000" stroke-width="1.0"/>
<line x1="1095.5" y1="467.6" x2="1095.5" y2="514.5" stroke="#000" stroke-width="1.0"/>
<line x1="1095.5" y1="490.9" x2="1119.9" y2="490.9" stroke="#000" stroke-width="1.0"/>
<path d="M355.2,694 C353.85,687.95 350.58,669.32 347.1,657.7 C343.62,646.08 339.87,633.73 334.3,624.3 C328.73,614.87 321.42,607.1 313.7,601.1 C305.98,595.1 296.13,589.58 288,588.3 C279.87,587.02 272.18,589.55 264.9,593.4 C257.62,597.25 250.3,603.25 244.3,611.4 C238.3,619.55 233.18,631.58 228.9,642.3 C224.62,653.02 220.97,663.7 218.6,675.7 C216.23,687.7 215.13,701.43 214.7,714.3 C214.27,727.17 214.93,741.33 216,752.9 C217.07,764.47 218.53,773 221.1,783.7 C223.67,794.4 227.53,806.82 231.4,817.1 C235.27,827.38 240.7,837.58 244.3,845.4 C247.9,853.22 251.55,860.9 253,864" stroke="#000" stroke-width="1.0" fill="none" />
<polygon points="253.5,859.5 267,875 251.5,878.5" stroke="#000" stroke-width="1.0" fill="none" stroke-linejoin="round"/>
<path d="M355.2,771 C354,785 352,798 349,811" stroke="#000" stroke-width="1.0" fill="none" />
<polygon points="345.5,807 352.5,822 338,833.5" stroke="#000" stroke-width="1.0" fill="none" stroke-linejoin="round"/>
<path d="M281.5,650.5 C261.06,650.5 244.5,687.44 244.5,733 C244.5,778.56 261.06,815.5 281.5,815.5" stroke="#333" stroke-width="0.9" fill="none" />
<path d="M282,651.8 C262.56,651.8 246.8,688.15 246.8,733 C246.8,777.85 262.56,814.2 282,814.2" stroke="#999" stroke-width="0.8" fill="none" />
<path d="M283,653 C264.44,653 249.4,688.82 249.4,733 C249.4,777.18 264.44,813 283,813" stroke="#000" stroke-width="1.6" fill="none" />
<line x1="243" y1="727.4" x2="249" y2="727.4" stroke="#000" stroke-width="1.0"/>
<path d="M283,653 C300,656 320,664 335,676 C343,683 350,689 354.8,694.3" stroke="#000" stroke-width="1.0" fill="none" />
<path d="M283,813 C300,808 318,800 334.5,789.2 C342,784 349,777 354.8,770.9" stroke="#000" stroke-width="1.0" fill="none" />
<path d="M354.8,694.3 H400 C412,694.3 426.6,710 426.6,733 C426.6,756 412,771.1 400,771.1 H354.8" stroke="#000" stroke-width="1.0" fill="#fff" />
<path d="M354.8,694.3 C343,700 334,715 333.8,730 C333.8,748 343,765 354.8,770.9" stroke="#000" stroke-width="1.0" fill="none" />
<line x1="333.8" y1="729.8" x2="384.3" y2="729.8" stroke="#000" stroke-width="0.9"/>
<path d="M400,694.3 C390,702 384.3,718 384.3,733 C384.3,750 390,764 400,771.1" stroke="#444" stroke-width="0.8" fill="none" />
<ellipse cx="417.4" cy="732.3" rx="9.5" ry="21" stroke="#555" stroke-width="0.8" fill="none"/>
<path d="M407,725.5 H415 V740.5 H407 Z" stroke="#000" stroke-width="0.9" fill="#fff" />
<path d="M415,723 H429 V742.6 H415 Z" stroke="#000" stroke-width="1.0" fill="#fff" />
<line x1="419" y1="723" x2="419" y2="742.6" stroke="#000" stroke-width="0.7"/>
<line x1="424.5" y1="723" x2="424.5" y2="742.6" stroke="#000" stroke-width="0.7"/>
<path d="M429,725 H441 C445,725 445,740.5 441,740.5 H429 Z" stroke="#000" stroke-width="1.0" fill="#fff" />
<ellipse cx="441" cy="732.8" rx="2.8" ry="7.7" stroke="#000" stroke-width="1.0" fill="none"/>
<line x1="329.3" y1="863.9" x2="379" y2="932.6" stroke="#000" stroke-width="1.0"/>
<line x1="130" y1="727.4" x2="172" y2="727.4" stroke="#000" stroke-width="1.2"/>
<polygon points="160.6,723.2 177.3,727.4 160.6,731.3" stroke="#000" stroke-width="1.0" fill="none" stroke-linejoin="round"/>
<path d="M412.8,640.5 C410.8,642.5 410.8,652.5 412.8,654.5 L416.3,654.5 C418.8,651.5 418.8,643.5 416.3,640.5 Z" stroke="#000" stroke-width="1.0" fill="#fff" />
<line x1="411.8" y1="645.5" x2="411.8" y2="649.5" stroke="#000" stroke-width="1.6"/>
<line x1="412.3" y1="647.5" x2="418.3" y2="647.5" stroke="#000" stroke-width="0.6"/>
<path d="M418.7,644.3 H448.2 M418.7,650.7 H448.2" stroke="#000" stroke-width="1.0" fill="none" />
<line x1="419.3" y1="647.7" x2="447.8" y2="647.7" stroke="#999" stroke-width="0.5"/>
<path d="M448.3,643.7 C447,645.5 447,649.5 448.6,651.8M451.9,643.7 C450.6,645.5 450.6,649.5 452.2,651.8M455.5,643.7 C454.2,645.5 454.2,649.5 455.8,651.8M459.1,643.7 C457.8,645.5 457.8,649.5 459.4,651.8M462.7,643.7 C461.4,645.5 461.4,649.5 463,651.8M466.3,643.7 C465,645.5 465,649.5 466.6,651.8M469.9,643.7 C468.6,645.5 468.6,649.5 470.2,651.8M473.5,643.7 C472.2,645.5 472.2,649.5 473.8,651.8M477.1,643.7 C475.8,645.5 475.8,649.5 477.4,651.8M480.7,643.7 C479.4,645.5 479.4,649.5 481,651.8M484.3,643.7 C483,645.5 483,649.5 484.6,651.8M487.9,643.7 C486.6,645.5 486.6,649.5 488.2,651.8" stroke="#000" stroke-width="0.9" fill="none" />
<path d="M448.2,643.7 H491.8 M448.2,651.3 H491.8" stroke="#000" stroke-width="0.9" fill="none" />
<path d="M491.8,643.7 L507.1,647.7 L491.8,651.3" stroke="#000" stroke-width="0.9" fill="none" />
<line x1="497.3" y1="646" x2="497.3" y2="649.5" stroke="#000" stroke-width="0.6"/>
<path d="M412.8,827.5 C410.8,829.5 410.8,839.5 412.8,841.5 L416.3,841.5 C418.8,838.5 418.8,830.5 416.3,827.5 Z" stroke="#000" stroke-width="1.0" fill="#fff" />
<line x1="411.8" y1="832.5" x2="411.8" y2="836.5" stroke="#000" stroke-width="1.6"/>
<line x1="412.3" y1="834.5" x2="418.3" y2="834.5" stroke="#000" stroke-width="0.6"/>
<path d="M418.7,831.3 H448.2 M418.7,837.7 H448.2" stroke="#000" stroke-width="1.0" fill="none" />
<line x1="419.3" y1="834.7" x2="447.8" y2="834.7" stroke="#999" stroke-width="0.5"/>
<path d="M448.3,830.7 C447,832.5 447,836.5 448.6,838.8M451.9,830.7 C450.6,832.5 450.6,836.5 452.2,838.8M455.5,830.7 C454.2,832.5 454.2,836.5 455.8,838.8M459.1,830.7 C457.8,832.5 457.8,836.5 459.4,838.8M462.7,830.7 C461.4,832.5 461.4,836.5 463,838.8M466.3,830.7 C465,832.5 465,836.5 466.6,838.8M469.9,830.7 C468.6,832.5 468.6,836.5 470.2,838.8M473.5,830.7 C472.2,832.5 472.2,836.5 473.8,838.8M477.1,830.7 C475.8,832.5 475.8,836.5 477.4,838.8M480.7,830.7 C479.4,832.5 479.4,836.5 481,838.8M484.3,830.7 C483,832.5 483,836.5 484.6,838.8M487.9,830.7 C486.6,832.5 486.6,836.5 488.2,838.8" stroke="#000" stroke-width="0.9" fill="none" />
<path d="M448.2,830.7 H491.8 M448.2,838.3 H491.8" stroke="#000" stroke-width="0.9" fill="none" />
<path d="M491.8,830.7 L507.1,834.7 L491.8,838.3" stroke="#000" stroke-width="0.9" fill="none" />
<line x1="497.3" y1="833" x2="497.3" y2="836.5" stroke="#000" stroke-width="0.6"/>
<path d="M539.3,323.6 H578.5 C580.5,323.6 580.8,325 580.8,327 V376 C580.8,378 580.5,379.3 578.5,379.3 H535 C522,379 512.7,366 512.7,351 C512.7,336 524,323.6 539.3,323.6 Z" stroke="#000" stroke-width="1.1" fill="#fff" />
<line x1="577.4" y1="325" x2="577.4" y2="378" stroke="#000" stroke-width="0.8"/>
<path d="M536.7,334.4 L547,337.5 L553.5,344.5 L554.1,352 L551.5,360.5 L545,367 L536.7,369.2 L527,366.5 L521,359 L519.3,351.8 L521.5,343 L528,336.5 Z" stroke="#000" stroke-width="1.0" fill="none" />
<circle cx="566.3" cy="337.7" r="6.8" fill="none" stroke="#111" stroke-width="1.0"/>
<circle cx="566.3" cy="337.7" r="5.2" fill="none" stroke="#111" stroke-width="0.6"/>
<line x1="564.5" y1="331.5" x2="564.5" y2="343.9" stroke="#000" stroke-width="0.9"/>
<line x1="567.5" y1="331.5" x2="567.5" y2="343.9" stroke="#000" stroke-width="0.9"/>
<line x1="567.5" y1="337.7" x2="572" y2="337.7" stroke="#000" stroke-width="0.7"/>
<rect x="580.8" y="336.9" width="6.5" height="29.9" fill="#fff" stroke="#000" stroke-width="1"/>
<rect x="583" y="336.9" width="3.4" height="29.9" fill="#000"/>
<rect x="587.3" y="336.9" width="26.5" height="29.9" fill="#fff" stroke="#000" stroke-width="1"/>
<rect x="595.4" y="333" width="12.4" height="3.9" fill="#fff" stroke="#000" stroke-width="0.9"/>
<rect x="595.4" y="366.8" width="12.4" height="2.6" fill="#fff" stroke="#000" stroke-width="0.9"/>
<circle cx="601.4" cy="351.8" r="12.2" fill="none" stroke="#000" stroke-width="1.3" stroke-dasharray="1.2 1.3"/>
<circle cx="601.4" cy="351.8" r="9" fill="none" stroke="#111" stroke-width="1.4"/>
<circle cx="601.4" cy="351.8" r="6.8" fill="none" stroke="#111" stroke-width="0.9"/>
<line x1="601.4" y1="338.5" x2="601.4" y2="365" stroke="#000" stroke-width="1.0"/>
<line x1="593.5" y1="351.8" x2="609.3" y2="351.8" stroke="#000" stroke-width="1.0"/>
<line x1="600.2" y1="344.5" x2="600.2" y2="359" stroke="#000" stroke-width="0.7"/>
<line x1="602.6" y1="344.5" x2="602.6" y2="359" stroke="#000" stroke-width="0.7"/>
<path d="M621.1,355.45 H634.3 C640,354.85 644,351.85 648,349.35 C652,345.85 656,343.35 661.9,342.15" stroke="#000" stroke-width="0.9" fill="none" />
<path d="M621.1,357.75 H634.3 C640,357.15 644,354.15 648,351.65 C652,348.15 656,345.65 661.9,344.45" stroke="#000" stroke-width="0.9" fill="none" />
<line x1="621.1" y1="355.4" x2="621.1" y2="357.8" stroke="#000" stroke-width="0.9"/>
<circle cx="681.8" cy="334.9" r="11.9" fill="none" stroke="#111" stroke-width="1.1"/>
<line x1="675.4" y1="329.8" x2="675.4" y2="340.1" stroke="#000" stroke-width="1.1"/>
<line x1="678.6" y1="327.9" x2="678.6" y2="342.6" stroke="#000" stroke-width="1.1"/>
<line x1="681.2" y1="325.6" x2="681.2" y2="343.9" stroke="#000" stroke-width="1.2"/>
<line x1="681.2" y1="335.4" x2="689.9" y2="335.4" stroke="#000" stroke-width="1.0"/>
<rect x="862.8" y="349.3" width="48.8" height="7" fill="#fff" stroke="#000" stroke-width="1"/>
<rect x="1055.6" y="349.3" width="48.6" height="7" fill="#fff" stroke="#000" stroke-width="1"/>
<rect x="941.4" y="331.6" width="59.4" height="17.7" fill="#fff" stroke="#000" stroke-width="1"/>
<rect x="941.4" y="357.6" width="59.4" height="15.8" fill="#fff" stroke="#000" stroke-width="1"/>
<path d="M967.3,349.3 V357.6 M975.7,349.3 V357.6" stroke="#000" stroke-width="1.0" fill="none" />
<circle cx="971.5" cy="353.4" r="0.9" fill="#000"/>
<circle cx="960.8" cy="340.9" r="6.8" fill="none" stroke="#111" stroke-width="0.9"/>
<circle cx="960.8" cy="340.9" r="5.2" fill="none" stroke="#111" stroke-width="1.0"/>
<rect x="956" y="339.9" width="9.6" height="2" fill="#000"/>
<circle cx="960.8" cy="365.1" r="6.8" fill="none" stroke="#111" stroke-width="0.9"/>
<circle cx="960.8" cy="365.1" r="5.2" fill="none" stroke="#111" stroke-width="1.0"/>
<rect x="956" y="364.1" width="9.6" height="2" fill="#000"/>
<circle cx="981.8" cy="340.9" r="6.8" fill="none" stroke="#111" stroke-width="0.9"/>
<circle cx="981.8" cy="340.9" r="5.2" fill="none" stroke="#111" stroke-width="1.0"/>
<rect x="977" y="339.9" width="9.6" height="2" fill="#000"/>
<circle cx="981.8" cy="365.1" r="6.8" fill="none" stroke="#111" stroke-width="0.9"/>
<circle cx="981.8" cy="365.1" r="5.2" fill="none" stroke="#111" stroke-width="1.0"/>
<rect x="977" y="364.1" width="9.6" height="2" fill="#000"/>
<path d="M911.6,352.2 C920,349.8 928,339.5 941.4,339.5" stroke="#000" stroke-width="0.9" fill="none" />
<path d="M911.6,353.4 C920,349.8 928,341.5 941.4,341.5" stroke="#000" stroke-width="0.9" fill="none" />
<path d="M911.6,352.2 C920,355.8 928,365 941.4,365" stroke="#000" stroke-width="0.9" fill="none" />
<path d="M911.6,353.4 C920,355.8 928,367 941.4,367" stroke="#000" stroke-width="0.9" fill="none" />
<path d="M1055.6,352.2 C1046,349.8 1038,339.5 1025,339.5" stroke="#000" stroke-width="0.9" fill="none" />
<path d="M1055.6,353.4 C1046,349.8 1038,341.5 1025,341.5" stroke="#000" stroke-width="0.9" fill="none" />
<rect x="1015.6" y="339.3" width="9.4" height="2.4" fill="#555"/>
<path d="M1055.6,352.2 C1046,355.8 1038,365 1025,365" stroke="#000" stroke-width="0.9" fill="none" />
<path d="M1055.6,353.4 C1046,355.8 1038,367 1025,367" stroke="#000" stroke-width="0.9" fill="none" />
<rect x="1015.6" y="364.8" width="9.4" height="2.4" fill="#555"/>
<text transform="translate(926.5,323.5) rotate(90)" font-size="10" >N</text>
<text transform="translate(1004.5,323.5) rotate(90)" font-size="10" >N</text>
<text transform="translate(926.5,371) rotate(90)" font-size="10" >L</text>
<text transform="translate(1004.5,371) rotate(90)" font-size="10" >L</text>
<path d="M1158.3,628.3 C1154.8,630.3 1154.8,646.3 1158.3,648.3 C1161.3,648.8 1164.3,644.3 1164.3,638.3 C1164.3,632.3 1161.3,627.8 1158.3,628.3 Z" stroke="#000" stroke-width="1.0" fill="#fff" />
<path d="M1159.8,629.8 C1157.3,633.3 1157.3,643.3 1159.8,646.8" stroke="#000" stroke-width="0.7" fill="none" />
<rect x="1161.3" y="631.8" width="10" height="13" fill="#222"/>
<ellipse cx="1163.3" cy="638.3" rx="0.8" ry="4.5" fill="#888"/>
<ellipse cx="1165.8" cy="638.3" rx="0.8" ry="4.5" fill="#888"/>
<ellipse cx="1168.3" cy="638.3" rx="0.8" ry="4.5" fill="#888"/>
<ellipse cx="1170.8" cy="638.3" rx="0.8" ry="4.5" fill="#888"/>
<path d="M1171.3,631.3 H1257.8 M1171.3,645.3 H1257.8" stroke="#000" stroke-width="1.2" fill="none" />
<path d="M1257.8,631.3 C1260.8,632.3 1260.8,644.3 1257.8,645.3" stroke="#000" stroke-width="1.0" fill="none" />
<path d="M1206.3,631.3 C1204.3,635.3 1204.3,641.3 1206.3,645.3" stroke="#777" stroke-width="0.7" fill="none" />
<path d="M1214.8,631.3 C1211.8,635.3 1211.8,641.3 1214.8,645.3" stroke="#000" stroke-width="1.2" fill="none" />
<path d="M1222.1,631.3 C1219.1,635.3 1219.1,641.3 1222.1,645.3" stroke="#000" stroke-width="1.2" fill="none" />
<path d="M1229.4,631.3 C1226.4,635.3 1226.4,641.3 1229.4,645.3" stroke="#000" stroke-width="1.2" fill="none" />
<path d="M1236.7,631.3 C1233.7,635.3 1233.7,641.3 1236.7,645.3" stroke="#000" stroke-width="1.2" fill="none" />
<path d="M1244,631.3 C1241,635.3 1241,641.3 1244,645.3" stroke="#000" stroke-width="1.2" fill="none" />
<path d="M1251.3,631.3 C1248.3,635.3 1248.3,641.3 1251.3,645.3" stroke="#000" stroke-width="1.2" fill="none" />
<path d="M1210.3,631.3 C1208.3,635.3 1208.3,641.3 1210.3,645.3" stroke="#888" stroke-width="0.7" fill="none" />
<path d="M1148.3,814.6 C1144.8,816.6 1144.8,832.6 1148.3,834.6 C1151.3,835.1 1154.3,830.6 1154.3,824.6 C1154.3,818.6 1151.3,814.1 1148.3,814.6 Z" stroke="#000" stroke-width="1.0" fill="#fff" />
<path d="M1149.8,816.1 C1147.3,819.6 1147.3,829.6 1149.8,833.1" stroke="#000" stroke-width="0.7" fill="none" />
<rect x="1151.3" y="818.1" width="10" height="13" fill="#222"/>
<ellipse cx="1153.3" cy="824.6" rx="0.8" ry="4.5" fill="#888"/>
<ellipse cx="1155.8" cy="824.6" rx="0.8" ry="4.5" fill="#888"/>
<ellipse cx="1158.3" cy="824.6" rx="0.8" ry="4.5" fill="#888"/>
<ellipse cx="1160.8" cy="824.6" rx="0.8" ry="4.5" fill="#888"/>
<path d="M1161.3,817.6 H1247.3 M1161.3,831.6 H1247.3" stroke="#000" stroke-width="1.2" fill="none" />
<path d="M1247.3,817.6 C1250.3,818.6 1250.3,830.6 1247.3,831.6" stroke="#000" stroke-width="1.0" fill="none" />
<path d="M1196.3,817.6 C1194.3,821.6 1194.3,827.6 1196.3,831.6" stroke="#777" stroke-width="0.7" fill="none" />
<path d="M1204.8,817.6 C1201.8,821.6 1201.8,827.6 1204.8,831.6" stroke="#000" stroke-width="1.2" fill="none" />
<path d="M1212.1,817.6 C1209.1,821.6 1209.1,827.6 1212.1,831.6" stroke="#000" stroke-width="1.2" fill="none" />
<path d="M1219.4,817.6 C1216.4,821.6 1216.4,827.6 1219.4,831.6" stroke="#000" stroke-width="1.2" fill="none" />
<path d="M1226.7,817.6 C1223.7,821.6 1223.7,827.6 1226.7,831.6" stroke="#000" stroke-width="1.2" fill="none" />
<path d="M1234,817.6 C1231,821.6 1231,827.6 1234,831.6" stroke="#000" stroke-width="1.2" fill="none" />
<path d="M1241.3,817.6 C1238.3,821.6 1238.3,827.6 1241.3,831.6" stroke="#000" stroke-width="1.2" fill="none" />
<path d="M1200.3,817.6 C1198.3,821.6 1198.3,827.6 1200.3,831.6" stroke="#888" stroke-width="0.7" fill="none" />
<line x1="1239.5" y1="656.7" x2="1212.8" y2="701.1" stroke="#000" stroke-width="1.0"/>
<line x1="1212.8" y1="759.6" x2="1226.5" y2="800.7" stroke="#000" stroke-width="1.0"/>
<defs><clipPath id="dc"><circle cx="1082.9" cy="958.3" r="46.4"/></clipPath></defs>
<path d="M1078.8,895 L1082.5,911.9" stroke="#000" stroke-width="1.0" fill="none" />
<g clip-path="url(#dc)">
<line x1="1030" y1="946.4" x2="1062.4" y2="946.4" stroke="#000" stroke-width="1.0"/>
<line x1="1102.6" y1="946.4" x2="1135" y2="946.4" stroke="#000" stroke-width="1.0"/>
<line x1="1030" y1="951.7" x2="1062.4" y2="951.7" stroke="#000" stroke-width="1.0"/>
<line x1="1102.6" y1="951.7" x2="1135" y2="951.7" stroke="#000" stroke-width="1.0"/>
<line x1="1030" y1="965.3" x2="1062.4" y2="965.3" stroke="#000" stroke-width="1.0"/>
<line x1="1102.6" y1="965.3" x2="1135" y2="965.3" stroke="#000" stroke-width="1.0"/>
<line x1="1030" y1="969.4" x2="1062.4" y2="969.4" stroke="#000" stroke-width="1.0"/>
<line x1="1102.6" y1="969.4" x2="1135" y2="969.4" stroke="#000" stroke-width="1.0"/>
<line x1="1036.5" y1="940" x2="1036.5" y2="977" stroke="#000" stroke-width="1.0"/>
<line x1="1129.4" y1="940" x2="1129.4" y2="977" stroke="#000" stroke-width="1.0"/>
</g>
<circle cx="1082.9" cy="958.3" r="46.4" fill="none" stroke="#111" stroke-width="1.0"/>
<rect x="1062.4" y="942.2" width="40.2" height="12" fill="#fff" stroke="#000" stroke-width="1"/>
<rect x="1062.4" y="961.1" width="40.2" height="13.2" fill="#fff" stroke="#000" stroke-width="1"/>
<path d="M1078.5,954.2 V961.1 M1088,954.2 V961.1" stroke="#000" stroke-width="1.0" fill="none" />
<circle cx="1082.9" cy="957.5" r="2.6" fill="none" stroke="#111" stroke-width="0.9"/>
<circle cx="1074.7" cy="948.4" r="5" fill="none" stroke="#111" stroke-width="0.9"/>
<path d="M1071.7,944.9 L1077.7,951.4 M1070.7,946.9 L1076.2,952.4 M1073.2,944.2 L1078.7,949.9" stroke="#000" stroke-width="0.7" fill="none" />
<circle cx="1074.7" cy="967.3" r="5" fill="none" stroke="#111" stroke-width="0.9"/>
<path d="M1071.7,963.8 L1077.7,970.3 M1070.7,965.8 L1076.2,971.3 M1073.2,963.1 L1078.7,968.8" stroke="#000" stroke-width="0.7" fill="none" />
<circle cx="1091.6" cy="948.4" r="5" fill="none" stroke="#111" stroke-width="0.9"/>
<path d="M1088.6,944.9 L1094.6,951.4 M1087.6,946.9 L1093.1,952.4 M1090.1,944.2 L1095.6,949.9" stroke="#000" stroke-width="0.7" fill="none" />
<circle cx="1091.6" cy="967.3" r="5" fill="none" stroke="#111" stroke-width="0.9"/>
<path d="M1088.6,963.8 L1094.6,970.3 M1087.6,965.8 L1093.1,971.3 M1090.1,963.1 L1095.6,968.8" stroke="#000" stroke-width="0.7" fill="none" />
<text transform="translate(1059.3,933.8) rotate(90)" font-size="8" >L</text>
<text transform="translate(1100.2,933.8) rotate(90)" font-size="8" >L</text>
<text transform="translate(1059.3,975.8) rotate(90)" font-size="8" >N</text>
<text transform="translate(1100.2,975.8) rotate(90)" font-size="8" >N</text>
<g transform="translate(1287.1,905) rotate(6.8)">
<rect x="-4.3" y="-40" width="8.6" height="78" fill="#111"/>
<path d="M-5.2,-39 L5.2,-37.5" stroke="#111" stroke-width="1.4"/>
<circle cx="1.5" cy="-37.5" r="0.6" fill="#777"/>
<path d="M-5.2,-36 L5.2,-34.5" stroke="#111" stroke-width="1.4"/>
<circle cx="-1.5" cy="-34.5" r="0.6" fill="#777"/>
<path d="M-5.2,-33 L5.2,-31.5" stroke="#111" stroke-width="1.4"/>
<circle cx="1.5" cy="-31.5" r="0.6" fill="#777"/>
<path d="M-5.2,-30 L5.2,-28.5" stroke="#111" stroke-width="1.4"/>
<circle cx="-1.5" cy="-28.5" r="0.6" fill="#777"/>
<path d="M-5.2,-27 L5.2,-25.5" stroke="#111" stroke-width="1.4"/>
<circle cx="1.5" cy="-25.5" r="0.6" fill="#777"/>
<path d="M-5.2,-24 L5.2,-22.5" stroke="#111" stroke-width="1.4"/>
<circle cx="-1.5" cy="-22.5" r="0.6" fill="#777"/>
<path d="M-5.2,-21 L5.2,-19.5" stroke="#111" stroke-width="1.4"/>
<circle cx="1.5" cy="-19.5" r="0.6" fill="#777"/>
<path d="M-5.2,-18 L5.2,-16.5" stroke="#111" stroke-width="1.4"/>
<circle cx="-1.5" cy="-16.5" r="0.6" fill="#777"/>
<path d="M-5.2,-15 L5.2,-13.5" stroke="#111" stroke-width="1.4"/>
<circle cx="1.5" cy="-13.5" r="0.6" fill="#777"/>
<path d="M-5.2,-12 L5.2,-10.5" stroke="#111" stroke-width="1.4"/>
<circle cx="-1.5" cy="-10.5" r="0.6" fill="#777"/>
<path d="M-5.2,-9 L5.2,-7.5" stroke="#111" stroke-width="1.4"/>
<circle cx="1.5" cy="-7.5" r="0.6" fill="#777"/>
<path d="M-5.2,-6 L5.2,-4.5" stroke="#111" stroke-width="1.4"/>
<circle cx="-1.5" cy="-4.5" r="0.6" fill="#777"/>
<path d="M-5.2,-3 L5.2,-1.5" stroke="#111" stroke-width="1.4"/>
<circle cx="1.5" cy="-1.5" r="0.6" fill="#777"/>
<path d="M-5.2,0 L5.2,1.5" stroke="#111" stroke-width="1.4"/>
<circle cx="-1.5" cy="1.5" r="0.6" fill="#777"/>
<path d="M-5.2,3 L5.2,4.5" stroke="#111" stroke-width="1.4"/>
<circle cx="1.5" cy="4.5" r="0.6" fill="#777"/>
<path d="M-5.2,6 L5.2,7.5" stroke="#111" stroke-width="1.4"/>
<circle cx="-1.5" cy="7.5" r="0.6" fill="#777"/>
<path d="M-5.2,9 L5.2,10.5" stroke="#111" stroke-width="1.4"/>
<circle cx="1.5" cy="10.5" r="0.6" fill="#777"/>
<path d="M-5.2,12 L5.2,13.5" stroke="#111" stroke-width="1.4"/>
<circle cx="-1.5" cy="13.5" r="0.6" fill="#777"/>
<path d="M-5.2,15 L5.2,16.5" stroke="#111" stroke-width="1.4"/>
<circle cx="1.5" cy="16.5" r="0.6" fill="#777"/>
<path d="M-5.2,18 L5.2,19.5" stroke="#111" stroke-width="1.4"/>
<circle cx="-1.5" cy="19.5" r="0.6" fill="#777"/>
<path d="M-5.2,21 L5.2,22.5" stroke="#111" stroke-width="1.4"/>
<circle cx="1.5" cy="22.5" r="0.6" fill="#777"/>
<path d="M-5.2,24 L5.2,25.5" stroke="#111" stroke-width="1.4"/>
<circle cx="-1.5" cy="25.5" r="0.6" fill="#777"/>
<path d="M-5.2,27 L5.2,28.5" stroke="#111" stroke-width="1.4"/>
<circle cx="1.5" cy="28.5" r="0.6" fill="#777"/>
<path d="M-5.2,30 L5.2,31.5" stroke="#111" stroke-width="1.4"/>
<circle cx="-1.5" cy="31.5" r="0.6" fill="#777"/>
<path d="M-5.2,33 L5.2,34.5" stroke="#111" stroke-width="1.4"/>
<circle cx="1.5" cy="34.5" r="0.6" fill="#777"/>
<path d="M-5.2,36 L5.2,37.5" stroke="#111" stroke-width="1.4"/>
<circle cx="-1.5" cy="37.5" r="0.6" fill="#777"/>
<path d="M-2,-40 L0,-44 L2,-40 Z" fill="#111"/>
<rect x="-4" y="38" width="7.5" height="4.5" fill="#fff" stroke="#111" stroke-width="1"/>
</g>
<text transform="translate(1298.8,904) rotate(90)" font-size="13.3" >x2</text>
<path d="M1323.6,863.8 H1331.1 L1335.5,870.6 V902.5 L1339.9,911.3 L1338,913.3 H1335.5 V935 L1337.8,936.4 H1318.2 L1320.5,935 V913.3 H1317.5 L1315.5,912 L1320.5,902.5 V870.6 Z" stroke="#000" stroke-width="1.8" fill="#fff" />
<line x1="1320.5" y1="870.6" x2="1335.5" y2="870.6" stroke="#000" stroke-width="1.5"/>
<line x1="1320.5" y1="875.6" x2="1335.5" y2="875.6" stroke="#000" stroke-width="1.5"/>
<line x1="1320.5" y1="880.6" x2="1335.5" y2="880.6" stroke="#000" stroke-width="1.5"/>
<line x1="1320.5" y1="885.6" x2="1335.5" y2="885.6" stroke="#000" stroke-width="1.5"/>
<line x1="1320.5" y1="890.6" x2="1335.5" y2="890.6" stroke="#000" stroke-width="1.5"/>
<line x1="1320.5" y1="895.6" x2="1335.5" y2="895.6" stroke="#000" stroke-width="1.5"/>
<line x1="1320.5" y1="900.6" x2="1335.5" y2="900.6" stroke="#000" stroke-width="1.5"/>
<line x1="1320.5" y1="905.6" x2="1335.5" y2="905.6" stroke="#000" stroke-width="1.5"/>
<line x1="1320.5" y1="910.6" x2="1335.5" y2="910.6" stroke="#000" stroke-width="1.5"/>
<line x1="1324.3" y1="864.5" x2="1324.3" y2="910" stroke="#000" stroke-width="1.1"/>
<line x1="1328.2" y1="864" x2="1328.2" y2="912" stroke="#000" stroke-width="2.6"/>
<line x1="1331.5" y1="864.5" x2="1331.5" y2="910" stroke="#000" stroke-width="1.1"/>
<line x1="1322" y1="875.5" x2="1326" y2="871.5" stroke="#000" stroke-width="1.2"/>
<line x1="1322" y1="880.5" x2="1326" y2="876.5" stroke="#000" stroke-width="1.2"/>
<line x1="1322" y1="885.5" x2="1326" y2="881.5" stroke="#000" stroke-width="1.2"/>
<line x1="1322" y1="890.5" x2="1326" y2="886.5" stroke="#000" stroke-width="1.2"/>
<line x1="1322" y1="895.5" x2="1326" y2="891.5" stroke="#000" stroke-width="1.2"/>
<line x1="1322" y1="900.5" x2="1326" y2="896.5" stroke="#000" stroke-width="1.2"/>
<line x1="1322" y1="905.5" x2="1326" y2="901.5" stroke="#000" stroke-width="1.2"/>
<line x1="1322" y1="910.5" x2="1326" y2="906.5" stroke="#000" stroke-width="1.2"/>
<rect x="1320.5" y="915.4" width="15" height="12.9" fill="#111"/>
<rect x="1325" y="929" width="6.7" height="4.7" fill="#fff"/>
<line x1="1318" y1="936.4" x2="1338" y2="936.4" stroke="#000" stroke-width="2.0"/>
<polygon points="1194.29,1064.57 1226.29,1064.57 1228.57,1066.29 1230.86,1070.29 1233.71,1078.29 1230.29,1084 1228,1088.57 1225.71,1100 1227.43,1110.29 1193.71,1110.29 1189.14,1088.57" stroke="#000" stroke-width="1.5" fill="#fff" stroke-linejoin="round"/>
<line x1="1194.29" y1="1064.57" x2="1189.14" y2="1088.57" stroke="#000" stroke-width="2.8"/>
<line x1="1189.14" y1="1088.57" x2="1193.71" y2="1110.29" stroke="#000" stroke-width="2.2"/>
<line x1="1189.71" y1="1089.14" x2="1221.14" y2="1089.14" stroke="#000" stroke-width="1.5"/>
<line x1="1189.71" y1="1092.23" x2="1221.14" y2="1092.23" stroke="#000" stroke-width="1.2"/>
<polyline points="1226.29,1065.14 1224,1088.57 1221.14,1092.23 1225.14,1100" stroke="#000" stroke-width="1.5" fill="none" stroke-linejoin="round"/>
<line x1="1221.14" y1="1092.23" x2="1229.14" y2="1088.57" stroke="#000" stroke-width="1.2"/>
<polyline points="1233.71,1077.71 1266.86,1069.37 1268,1066.29 1274.86,1066.29 1277.14,1068 1286.86,1066.29" stroke="#000" stroke-width="1.5" fill="none" stroke-linejoin="round"/>
<polyline points="1230.86,1082.29 1266.86,1072 1269.71,1071.43" stroke="#000" stroke-width="1.5" fill="none" stroke-linejoin="round"/>
<polyline points="1229.14,1088.57 1268,1084.57 1270.29,1071.43" stroke="#000" stroke-width="1.5" fill="none" stroke-linejoin="round"/>
<polyline points="1225.71,1100 1266.86,1092 1274.86,1084.57 1287.43,1081.71" stroke="#000" stroke-width="1.5" fill="none" stroke-linejoin="round"/>
<polyline points="1225.71,1102.29 1228,1100 1288.57,1094.86" stroke="#000" stroke-width="1.5" fill="none" stroke-linejoin="round"/>
<polyline points="1228,1104.57 1288.57,1097.14" stroke="#000" stroke-width="1.5" fill="none" stroke-linejoin="round"/>
<line x1="1269.14" y1="1088.57" x2="1270.29" y2="1072" stroke="#000" stroke-width="1.4"/>
<polyline points="1276,1069.14 1275.43,1081.71" stroke="#000" stroke-width="1.5" fill="none" stroke-linejoin="round"/>
<polyline points="1286.86,1066.29 1294.29,1035.43 1315.43,1035.43 1318.86,1040 1309.14,1093.14" stroke="#000" stroke-width="1.5" fill="none" stroke-linejoin="round"/>
<line x1="1308" y1="1037.14" x2="1298.86" y2="1076" stroke="#000" stroke-width="1.5"/>
<line x1="1316.57" y1="1040.57" x2="1306.86" y2="1084" stroke="#000" stroke-width="1.4"/>
<polyline points="1287.43,1076 1298.86,1076 1305.71,1082.86 1309.14,1093.14" stroke="#000" stroke-width="1.5" fill="none" stroke-linejoin="round"/>
<polyline points="1282.86,1082.29 1288.57,1079.43 1294.29,1078.29 1301.14,1080.57" stroke="#000" stroke-width="1.5" fill="none" stroke-linejoin="round"/>
<polyline points="1286.29,1084 1289.14,1095.43 1295.43,1093.14 1305.71,1092.57" stroke="#000" stroke-width="1.5" fill="none" stroke-linejoin="round"/>
<line x1="1292.57" y1="1081.71" x2="1295.43" y2="1093.14" stroke="#000" stroke-width="1.4"/>
<line x1="1288" y1="1084" x2="1289.94" y2="1094.86" stroke="#000" stroke-width="1.2"/>
<polyline points="1322.86,1020 1322.29,1033.71 1320.57,1049.71 1310.29,1093.14" stroke="#000" stroke-width="1.4" fill="none" stroke-linejoin="round"/>
<polyline points="1321.14,1050.86 1320,1054.29 1308.57,1093.71" stroke="#000" stroke-width="1.1" fill="none" stroke-linejoin="round"/>
<polyline points="1301.14,1020 1297.71,1026.86 1294.29,1035.43" stroke="#000" stroke-width="1.5" fill="none" stroke-linejoin="round"/>
<polyline points="1297.71,1026.86 1303.43,1024.57 1311.43,1025.14 1317.14,1028 1321.14,1032.57" stroke="#000" stroke-width="1.5" fill="none" stroke-linejoin="round"/>
<path d="M1294.3,1035.4 L1300.6,1024.6 L1304,1013.7 C1305,1011 1310,1009 1315,1008.5 L1320.6,1008 L1324,1020 L1321.5,1031" stroke="#000" stroke-width="1.5" fill="none" />
<path d="M1306.3,1012 L1315.4,1012.6 L1321,1015.4" stroke="#000" stroke-width="1.5" fill="none" />
<path d="M1301.7,1024.6 C1304,1023.8 1308,1023.8 1310.9,1024 C1314,1025.5 1318,1027.5 1320,1030.3" stroke="#000" stroke-width="1.5" fill="none" />
<path d="M1317.1,1007.4 L1319.5,996 M1319.6,1007.6 L1321.6,996" stroke="#000" stroke-width="1.2" fill="none" />
<ellipse cx="1320.8" cy="990" rx="2.3" ry="3.2" transform="rotate(15 1320.8 990)" fill="none" stroke="#000" stroke-width="1.5"/>
<rect x="1318.6" y="993" width="3.5" height="5" fill="#000" transform="rotate(12 1320 995)"/>
</svg></body></html>
